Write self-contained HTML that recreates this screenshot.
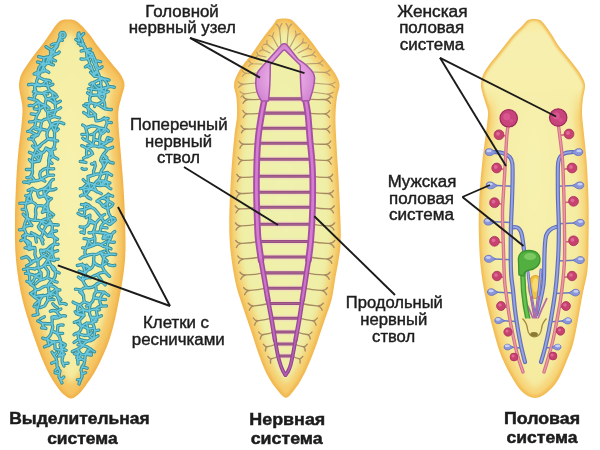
<!DOCTYPE html><html><head><meta charset="utf-8"><style>
html,body{margin:0;padding:0;background:#fff;width:600px;height:450px;overflow:hidden}
svg{display:block}
text{font-family:"Liberation Sans",sans-serif;fill:#1c1c1c;stroke:#1c1c1c;stroke-width:0.42px}
</style></head><body>
<svg width="600" height="450" viewBox="0 0 600 450">
<defs>
<filter id="inset" x="-10%" y="-10%" width="120%" height="120%"><feMorphology operator="erode" radius="7"/><feGaussianBlur stdDeviation="3.2"/></filter>
<filter id="insetA" x="-10%" y="-10%" width="120%" height="120%"><feMorphology operator="erode" radius="8.5"/><feGaussianBlur stdDeviation="3.4"/></filter>
<filter id="inset1" x="-10%" y="-10%" width="120%" height="120%"><feMorphology operator="erode" radius="2.2"/><feGaussianBlur stdDeviation="1.6"/></filter>
<filter id="soft" x="-5%" y="-5%" width="110%" height="110%"><feGaussianBlur stdDeviation="0.45"/></filter>
<radialGradient id="brainG" gradientUnits="userSpaceOnUse" cx="285" cy="78" r="30"><stop offset="0" stop-color="#f0c4ec"/><stop offset="0.6" stop-color="#e4a2e0"/><stop offset="1" stop-color="#d488d4"/></radialGradient>
<radialGradient id="g1" cx="0.5" cy="0.45" r="0.6"><stop offset="0" stop-color="#f7f3b0"/><stop offset="1" stop-color="#f5eca0"/></radialGradient>
<radialGradient id="g2" cx="0.5" cy="0.45" r="0.6"><stop offset="0" stop-color="#eff2b0"/><stop offset="1" stop-color="#f0eea4"/></radialGradient>
<linearGradient id="g3head" gradientUnits="userSpaceOnUse" x1="0" y1="18" x2="0" y2="118"><stop offset="0" stop-color="#f8e89a" stop-opacity="1"/><stop offset="0.15" stop-color="#f8f0b0" stop-opacity="1"/><stop offset="0.72" stop-color="#f7efaa" stop-opacity="1"/><stop offset="1" stop-color="#f7efaa" stop-opacity="0"/></linearGradient>
<filter id="inset0" x="-10%" y="-10%" width="120%" height="120%"><feMorphology operator="erode" radius="1.6"/><feGaussianBlur stdDeviation="1.3"/></filter>
<radialGradient id="g3" cx="0.5" cy="0.4" r="0.6"><stop offset="0" stop-color="#f8f3b2"/><stop offset="1" stop-color="#f5eba0"/></radialGradient>
</defs>
<rect width="600" height="450" fill="#fff"/>
<g filter="url(#soft)">
<path d="M68.0,19.6 C70.3,19.6 72.8,19.6 75.0,20.5 C77.2,21.4 78.5,22.6 81.0,25.0 C83.5,27.4 87.3,31.7 90.0,35.0 C92.7,38.3 94.5,41.7 97.0,45.0 C99.5,48.3 102.3,51.7 105.0,55.0 C107.7,58.3 110.3,61.7 113.0,65.0 C115.7,68.3 119.1,71.7 121.0,75.0 C122.9,78.3 124.4,81.3 124.5,85.0 C124.6,88.7 122.5,92.8 121.5,97.0 C120.5,101.2 119.0,105.3 118.5,110.0 C118.0,114.7 118.2,118.3 118.5,125.0 C118.8,131.7 119.8,140.8 120.5,150.0 C121.2,159.2 122.2,168.3 123.0,180.0 C123.8,191.7 124.7,206.7 125.0,220.0 C125.3,233.3 126.0,246.7 125.0,260.0 C124.0,273.3 121.5,287.0 119.0,300.0 C116.5,313.0 113.7,326.7 110.0,338.0 C106.3,349.3 101.3,359.7 97.0,368.0 C92.7,376.3 87.3,383.4 84.0,388.0 C80.7,392.6 79.2,393.8 77.0,395.5 C74.8,397.2 73.0,398.5 71.0,398.5 C69.0,398.5 67.2,397.2 65.0,395.5 C62.8,393.8 61.0,392.2 58.0,388.0 C55.0,383.8 50.8,378.0 47.0,370.0 C43.2,362.0 39.1,351.7 35.0,340.0 C30.9,328.3 25.7,313.3 22.5,300.0 C19.3,286.7 17.2,273.3 16.0,260.0 C14.8,246.7 14.9,233.3 15.0,220.0 C15.1,206.7 15.7,191.7 16.3,180.0 C16.9,168.3 17.6,159.2 18.5,150.0 C19.4,140.8 20.8,132.0 21.5,125.0 C22.2,118.0 22.7,112.8 22.5,108.0 C22.3,103.2 21.1,99.8 20.5,96.0 C19.9,92.2 18.9,88.5 19.0,85.0 C19.1,81.5 19.7,78.3 21.0,75.0 C22.3,71.7 24.8,68.3 27.0,65.0 C29.2,61.7 31.5,58.3 34.0,55.0 C36.5,51.7 39.5,48.3 42.0,45.0 C44.5,41.7 46.7,38.3 49.0,35.0 C51.3,31.7 54.0,27.4 56.0,25.0 C58.0,22.6 59.0,21.4 61.0,20.5 C63.0,19.6 65.7,19.6 68.0,19.6Z" fill="#f1b24a"/>
<path d="M68.0,19.6 C70.3,19.6 72.8,19.6 75.0,20.5 C77.2,21.4 78.5,22.6 81.0,25.0 C83.5,27.4 87.3,31.7 90.0,35.0 C92.7,38.3 94.5,41.7 97.0,45.0 C99.5,48.3 102.3,51.7 105.0,55.0 C107.7,58.3 110.3,61.7 113.0,65.0 C115.7,68.3 119.1,71.7 121.0,75.0 C122.9,78.3 124.4,81.3 124.5,85.0 C124.6,88.7 122.5,92.8 121.5,97.0 C120.5,101.2 119.0,105.3 118.5,110.0 C118.0,114.7 118.2,118.3 118.5,125.0 C118.8,131.7 119.8,140.8 120.5,150.0 C121.2,159.2 122.2,168.3 123.0,180.0 C123.8,191.7 124.7,206.7 125.0,220.0 C125.3,233.3 126.0,246.7 125.0,260.0 C124.0,273.3 121.5,287.0 119.0,300.0 C116.5,313.0 113.7,326.7 110.0,338.0 C106.3,349.3 101.3,359.7 97.0,368.0 C92.7,376.3 87.3,383.4 84.0,388.0 C80.7,392.6 79.2,393.8 77.0,395.5 C74.8,397.2 73.0,398.5 71.0,398.5 C69.0,398.5 67.2,397.2 65.0,395.5 C62.8,393.8 61.0,392.2 58.0,388.0 C55.0,383.8 50.8,378.0 47.0,370.0 C43.2,362.0 39.1,351.7 35.0,340.0 C30.9,328.3 25.7,313.3 22.5,300.0 C19.3,286.7 17.2,273.3 16.0,260.0 C14.8,246.7 14.9,233.3 15.0,220.0 C15.1,206.7 15.7,191.7 16.3,180.0 C16.9,168.3 17.6,159.2 18.5,150.0 C19.4,140.8 20.8,132.0 21.5,125.0 C22.2,118.0 22.7,112.8 22.5,108.0 C22.3,103.2 21.1,99.8 20.5,96.0 C19.9,92.2 18.9,88.5 19.0,85.0 C19.1,81.5 19.7,78.3 21.0,75.0 C22.3,71.7 24.8,68.3 27.0,65.0 C29.2,61.7 31.5,58.3 34.0,55.0 C36.5,51.7 39.5,48.3 42.0,45.0 C44.5,41.7 46.7,38.3 49.0,35.0 C51.3,31.7 54.0,27.4 56.0,25.0 C58.0,22.6 59.0,21.4 61.0,20.5 C63.0,19.6 65.7,19.6 68.0,19.6Z" fill="#f5c562" filter="url(#inset1)"/>
<path d="M68.0,19.6 C70.3,19.6 72.8,19.6 75.0,20.5 C77.2,21.4 78.5,22.6 81.0,25.0 C83.5,27.4 87.3,31.7 90.0,35.0 C92.7,38.3 94.5,41.7 97.0,45.0 C99.5,48.3 102.3,51.7 105.0,55.0 C107.7,58.3 110.3,61.7 113.0,65.0 C115.7,68.3 119.1,71.7 121.0,75.0 C122.9,78.3 124.4,81.3 124.5,85.0 C124.6,88.7 122.5,92.8 121.5,97.0 C120.5,101.2 119.0,105.3 118.5,110.0 C118.0,114.7 118.2,118.3 118.5,125.0 C118.8,131.7 119.8,140.8 120.5,150.0 C121.2,159.2 122.2,168.3 123.0,180.0 C123.8,191.7 124.7,206.7 125.0,220.0 C125.3,233.3 126.0,246.7 125.0,260.0 C124.0,273.3 121.5,287.0 119.0,300.0 C116.5,313.0 113.7,326.7 110.0,338.0 C106.3,349.3 101.3,359.7 97.0,368.0 C92.7,376.3 87.3,383.4 84.0,388.0 C80.7,392.6 79.2,393.8 77.0,395.5 C74.8,397.2 73.0,398.5 71.0,398.5 C69.0,398.5 67.2,397.2 65.0,395.5 C62.8,393.8 61.0,392.2 58.0,388.0 C55.0,383.8 50.8,378.0 47.0,370.0 C43.2,362.0 39.1,351.7 35.0,340.0 C30.9,328.3 25.7,313.3 22.5,300.0 C19.3,286.7 17.2,273.3 16.0,260.0 C14.8,246.7 14.9,233.3 15.0,220.0 C15.1,206.7 15.7,191.7 16.3,180.0 C16.9,168.3 17.6,159.2 18.5,150.0 C19.4,140.8 20.8,132.0 21.5,125.0 C22.2,118.0 22.7,112.8 22.5,108.0 C22.3,103.2 21.1,99.8 20.5,96.0 C19.9,92.2 18.9,88.5 19.0,85.0 C19.1,81.5 19.7,78.3 21.0,75.0 C22.3,71.7 24.8,68.3 27.0,65.0 C29.2,61.7 31.5,58.3 34.0,55.0 C36.5,51.7 39.5,48.3 42.0,45.0 C44.5,41.7 46.7,38.3 49.0,35.0 C51.3,31.7 54.0,27.4 56.0,25.0 C58.0,22.6 59.0,21.4 61.0,20.5 C63.0,19.6 65.7,19.6 68.0,19.6Z" fill="url(#g1)" filter="url(#insetA)"/>
<path d="M284.0,18.4 C286.3,18.4 288.8,18.4 291.0,19.5 C293.2,20.6 294.5,22.4 297.0,25.0 C299.5,27.6 303.2,31.7 306.0,35.0 C308.8,38.3 311.5,41.7 314.0,45.0 C316.5,48.3 318.5,51.7 321.0,55.0 C323.5,58.3 326.5,61.7 329.0,65.0 C331.5,68.3 334.2,71.7 336.0,75.0 C337.8,78.3 339.3,81.3 339.5,85.0 C339.7,88.7 337.7,92.2 337.0,97.0 C336.3,101.8 335.7,107.7 335.5,114.0 C335.3,120.3 335.6,125.7 336.0,135.0 C336.4,144.3 337.3,157.5 338.0,170.0 C338.7,182.5 339.6,197.5 340.0,210.0 C340.4,222.5 341.3,233.3 340.5,245.0 C339.7,256.7 336.5,270.8 335.0,280.0 C333.5,289.2 333.2,293.3 331.5,300.0 C329.8,306.7 326.9,313.3 324.7,320.0 C322.4,326.7 320.0,334.2 318.0,340.0 C316.0,345.8 314.3,350.3 312.5,355.0 C310.7,359.7 308.8,364.0 307.0,368.0 C305.2,372.0 303.5,375.5 301.5,379.0 C299.5,382.5 297.6,385.9 295.0,389.0 C292.4,392.1 289.1,397.7 286.0,397.7 C282.9,397.7 279.2,392.1 276.5,389.0 C273.8,385.9 271.6,382.5 269.5,379.0 C267.4,375.5 265.8,372.0 264.0,368.0 C262.2,364.0 260.7,359.7 259.0,355.0 C257.3,350.3 255.9,345.8 254.0,340.0 C252.1,334.2 249.6,326.7 247.3,320.0 C245.1,313.3 242.6,306.7 240.5,300.0 C238.4,293.3 236.8,289.2 235.0,280.0 C233.2,270.8 230.9,256.7 230.0,245.0 C229.1,233.3 229.2,222.5 229.5,210.0 C229.8,197.5 230.7,182.5 231.5,170.0 C232.3,157.5 233.6,144.0 234.5,135.0 C235.4,126.0 236.7,122.2 237.0,116.0 C237.3,109.8 237.0,103.2 236.5,98.0 C236.0,92.8 233.9,88.8 234.0,85.0 C234.1,81.2 235.5,78.3 237.0,75.0 C238.5,71.7 240.7,68.3 243.0,65.0 C245.3,61.7 248.5,58.3 251.0,55.0 C253.5,51.7 255.7,48.3 258.0,45.0 C260.3,41.7 262.5,38.3 265.0,35.0 C267.5,31.7 271.0,27.6 273.0,25.0 C275.0,22.4 275.2,20.6 277.0,19.5 C278.8,18.4 281.7,18.4 284.0,18.4Z" fill="#f1b850"/>
<path d="M284.0,18.4 C286.3,18.4 288.8,18.4 291.0,19.5 C293.2,20.6 294.5,22.4 297.0,25.0 C299.5,27.6 303.2,31.7 306.0,35.0 C308.8,38.3 311.5,41.7 314.0,45.0 C316.5,48.3 318.5,51.7 321.0,55.0 C323.5,58.3 326.5,61.7 329.0,65.0 C331.5,68.3 334.2,71.7 336.0,75.0 C337.8,78.3 339.3,81.3 339.5,85.0 C339.7,88.7 337.7,92.2 337.0,97.0 C336.3,101.8 335.7,107.7 335.5,114.0 C335.3,120.3 335.6,125.7 336.0,135.0 C336.4,144.3 337.3,157.5 338.0,170.0 C338.7,182.5 339.6,197.5 340.0,210.0 C340.4,222.5 341.3,233.3 340.5,245.0 C339.7,256.7 336.5,270.8 335.0,280.0 C333.5,289.2 333.2,293.3 331.5,300.0 C329.8,306.7 326.9,313.3 324.7,320.0 C322.4,326.7 320.0,334.2 318.0,340.0 C316.0,345.8 314.3,350.3 312.5,355.0 C310.7,359.7 308.8,364.0 307.0,368.0 C305.2,372.0 303.5,375.5 301.5,379.0 C299.5,382.5 297.6,385.9 295.0,389.0 C292.4,392.1 289.1,397.7 286.0,397.7 C282.9,397.7 279.2,392.1 276.5,389.0 C273.8,385.9 271.6,382.5 269.5,379.0 C267.4,375.5 265.8,372.0 264.0,368.0 C262.2,364.0 260.7,359.7 259.0,355.0 C257.3,350.3 255.9,345.8 254.0,340.0 C252.1,334.2 249.6,326.7 247.3,320.0 C245.1,313.3 242.6,306.7 240.5,300.0 C238.4,293.3 236.8,289.2 235.0,280.0 C233.2,270.8 230.9,256.7 230.0,245.0 C229.1,233.3 229.2,222.5 229.5,210.0 C229.8,197.5 230.7,182.5 231.5,170.0 C232.3,157.5 233.6,144.0 234.5,135.0 C235.4,126.0 236.7,122.2 237.0,116.0 C237.3,109.8 237.0,103.2 236.5,98.0 C236.0,92.8 233.9,88.8 234.0,85.0 C234.1,81.2 235.5,78.3 237.0,75.0 C238.5,71.7 240.7,68.3 243.0,65.0 C245.3,61.7 248.5,58.3 251.0,55.0 C253.5,51.7 255.7,48.3 258.0,45.0 C260.3,41.7 262.5,38.3 265.0,35.0 C267.5,31.7 271.0,27.6 273.0,25.0 C275.0,22.4 275.2,20.6 277.0,19.5 C278.8,18.4 281.7,18.4 284.0,18.4Z" fill="#f6cc6c" filter="url(#inset1)"/>
<path d="M284.0,18.4 C286.3,18.4 288.8,18.4 291.0,19.5 C293.2,20.6 294.5,22.4 297.0,25.0 C299.5,27.6 303.2,31.7 306.0,35.0 C308.8,38.3 311.5,41.7 314.0,45.0 C316.5,48.3 318.5,51.7 321.0,55.0 C323.5,58.3 326.5,61.7 329.0,65.0 C331.5,68.3 334.2,71.7 336.0,75.0 C337.8,78.3 339.3,81.3 339.5,85.0 C339.7,88.7 337.7,92.2 337.0,97.0 C336.3,101.8 335.7,107.7 335.5,114.0 C335.3,120.3 335.6,125.7 336.0,135.0 C336.4,144.3 337.3,157.5 338.0,170.0 C338.7,182.5 339.6,197.5 340.0,210.0 C340.4,222.5 341.3,233.3 340.5,245.0 C339.7,256.7 336.5,270.8 335.0,280.0 C333.5,289.2 333.2,293.3 331.5,300.0 C329.8,306.7 326.9,313.3 324.7,320.0 C322.4,326.7 320.0,334.2 318.0,340.0 C316.0,345.8 314.3,350.3 312.5,355.0 C310.7,359.7 308.8,364.0 307.0,368.0 C305.2,372.0 303.5,375.5 301.5,379.0 C299.5,382.5 297.6,385.9 295.0,389.0 C292.4,392.1 289.1,397.7 286.0,397.7 C282.9,397.7 279.2,392.1 276.5,389.0 C273.8,385.9 271.6,382.5 269.5,379.0 C267.4,375.5 265.8,372.0 264.0,368.0 C262.2,364.0 260.7,359.7 259.0,355.0 C257.3,350.3 255.9,345.8 254.0,340.0 C252.1,334.2 249.6,326.7 247.3,320.0 C245.1,313.3 242.6,306.7 240.5,300.0 C238.4,293.3 236.8,289.2 235.0,280.0 C233.2,270.8 230.9,256.7 230.0,245.0 C229.1,233.3 229.2,222.5 229.5,210.0 C229.8,197.5 230.7,182.5 231.5,170.0 C232.3,157.5 233.6,144.0 234.5,135.0 C235.4,126.0 236.7,122.2 237.0,116.0 C237.3,109.8 237.0,103.2 236.5,98.0 C236.0,92.8 233.9,88.8 234.0,85.0 C234.1,81.2 235.5,78.3 237.0,75.0 C238.5,71.7 240.7,68.3 243.0,65.0 C245.3,61.7 248.5,58.3 251.0,55.0 C253.5,51.7 255.7,48.3 258.0,45.0 C260.3,41.7 262.5,38.3 265.0,35.0 C267.5,31.7 271.0,27.6 273.0,25.0 C275.0,22.4 275.2,20.6 277.0,19.5 C278.8,18.4 281.7,18.4 284.0,18.4Z" fill="url(#g2)" filter="url(#inset)"/>
<path d="M534.0,19.0 C536.0,19.0 538.2,19.0 540.0,20.0 C541.8,21.0 543.0,22.5 545.0,25.0 C547.0,27.5 549.8,31.7 552.0,35.0 C554.2,38.3 555.7,41.7 558.0,45.0 C560.3,48.3 563.3,51.7 566.0,55.0 C568.7,58.3 571.5,61.7 574.0,65.0 C576.5,68.3 579.2,71.7 581.0,75.0 C582.8,78.3 584.7,81.2 585.0,85.0 C585.3,88.8 583.5,93.7 583.0,98.0 C582.5,102.3 582.0,106.5 582.0,111.0 C582.0,115.5 582.2,116.8 583.0,125.0 C583.8,133.2 585.6,147.5 586.5,160.0 C587.4,172.5 588.2,186.7 588.5,200.0 C588.8,213.3 588.7,228.3 588.5,240.0 C588.3,251.7 588.5,260.8 587.5,270.0 C586.5,279.2 584.8,283.3 582.5,295.0 C580.2,306.7 576.6,329.2 574.0,340.0 C571.4,350.8 569.7,353.3 567.0,360.0 C564.3,366.7 561.3,374.6 558.0,380.0 C554.7,385.4 550.8,389.5 547.0,392.5 C543.2,395.5 539.0,398.0 535.0,398.0 C531.0,398.0 526.6,395.5 523.0,392.5 C519.4,389.5 516.8,385.4 513.5,380.0 C510.2,374.6 505.9,366.7 503.0,360.0 C500.1,353.3 498.8,350.0 496.0,340.0 C493.2,330.0 488.6,312.5 486.0,300.0 C483.4,287.5 481.7,276.7 480.5,265.0 C479.3,253.3 479.0,241.7 478.8,230.0 C478.6,218.3 478.9,206.7 479.5,195.0 C480.1,183.3 481.2,171.7 482.5,160.0 C483.8,148.3 486.1,133.0 487.0,125.0 C487.9,117.0 488.2,115.7 488.0,112.0 C487.8,108.3 486.4,106.2 485.5,103.0 C484.6,99.8 483.2,96.0 482.5,93.0 C481.8,90.0 480.9,88.0 481.0,85.0 C481.1,82.0 481.7,78.3 483.0,75.0 C484.3,71.7 486.7,68.3 489.0,65.0 C491.3,61.7 494.3,58.3 497.0,55.0 C499.7,51.7 502.3,48.3 505.0,45.0 C507.7,41.7 510.0,38.3 513.0,35.0 C516.0,31.7 520.5,27.5 523.0,25.0 C525.5,22.5 526.2,21.0 528.0,20.0 C529.8,19.0 532.0,19.0 534.0,19.0Z" fill="#f2bb52"/>
<path d="M534.0,19.0 C536.0,19.0 538.2,19.0 540.0,20.0 C541.8,21.0 543.0,22.5 545.0,25.0 C547.0,27.5 549.8,31.7 552.0,35.0 C554.2,38.3 555.7,41.7 558.0,45.0 C560.3,48.3 563.3,51.7 566.0,55.0 C568.7,58.3 571.5,61.7 574.0,65.0 C576.5,68.3 579.2,71.7 581.0,75.0 C582.8,78.3 584.7,81.2 585.0,85.0 C585.3,88.8 583.5,93.7 583.0,98.0 C582.5,102.3 582.0,106.5 582.0,111.0 C582.0,115.5 582.2,116.8 583.0,125.0 C583.8,133.2 585.6,147.5 586.5,160.0 C587.4,172.5 588.2,186.7 588.5,200.0 C588.8,213.3 588.7,228.3 588.5,240.0 C588.3,251.7 588.5,260.8 587.5,270.0 C586.5,279.2 584.8,283.3 582.5,295.0 C580.2,306.7 576.6,329.2 574.0,340.0 C571.4,350.8 569.7,353.3 567.0,360.0 C564.3,366.7 561.3,374.6 558.0,380.0 C554.7,385.4 550.8,389.5 547.0,392.5 C543.2,395.5 539.0,398.0 535.0,398.0 C531.0,398.0 526.6,395.5 523.0,392.5 C519.4,389.5 516.8,385.4 513.5,380.0 C510.2,374.6 505.9,366.7 503.0,360.0 C500.1,353.3 498.8,350.0 496.0,340.0 C493.2,330.0 488.6,312.5 486.0,300.0 C483.4,287.5 481.7,276.7 480.5,265.0 C479.3,253.3 479.0,241.7 478.8,230.0 C478.6,218.3 478.9,206.7 479.5,195.0 C480.1,183.3 481.2,171.7 482.5,160.0 C483.8,148.3 486.1,133.0 487.0,125.0 C487.9,117.0 488.2,115.7 488.0,112.0 C487.8,108.3 486.4,106.2 485.5,103.0 C484.6,99.8 483.2,96.0 482.5,93.0 C481.8,90.0 480.9,88.0 481.0,85.0 C481.1,82.0 481.7,78.3 483.0,75.0 C484.3,71.7 486.7,68.3 489.0,65.0 C491.3,61.7 494.3,58.3 497.0,55.0 C499.7,51.7 502.3,48.3 505.0,45.0 C507.7,41.7 510.0,38.3 513.0,35.0 C516.0,31.7 520.5,27.5 523.0,25.0 C525.5,22.5 526.2,21.0 528.0,20.0 C529.8,19.0 532.0,19.0 534.0,19.0Z" fill="#f7d478" filter="url(#inset1)"/>
<path d="M534.0,19.0 C536.0,19.0 538.2,19.0 540.0,20.0 C541.8,21.0 543.0,22.5 545.0,25.0 C547.0,27.5 549.8,31.7 552.0,35.0 C554.2,38.3 555.7,41.7 558.0,45.0 C560.3,48.3 563.3,51.7 566.0,55.0 C568.7,58.3 571.5,61.7 574.0,65.0 C576.5,68.3 579.2,71.7 581.0,75.0 C582.8,78.3 584.7,81.2 585.0,85.0 C585.3,88.8 583.5,93.7 583.0,98.0 C582.5,102.3 582.0,106.5 582.0,111.0 C582.0,115.5 582.2,116.8 583.0,125.0 C583.8,133.2 585.6,147.5 586.5,160.0 C587.4,172.5 588.2,186.7 588.5,200.0 C588.8,213.3 588.7,228.3 588.5,240.0 C588.3,251.7 588.5,260.8 587.5,270.0 C586.5,279.2 584.8,283.3 582.5,295.0 C580.2,306.7 576.6,329.2 574.0,340.0 C571.4,350.8 569.7,353.3 567.0,360.0 C564.3,366.7 561.3,374.6 558.0,380.0 C554.7,385.4 550.8,389.5 547.0,392.5 C543.2,395.5 539.0,398.0 535.0,398.0 C531.0,398.0 526.6,395.5 523.0,392.5 C519.4,389.5 516.8,385.4 513.5,380.0 C510.2,374.6 505.9,366.7 503.0,360.0 C500.1,353.3 498.8,350.0 496.0,340.0 C493.2,330.0 488.6,312.5 486.0,300.0 C483.4,287.5 481.7,276.7 480.5,265.0 C479.3,253.3 479.0,241.7 478.8,230.0 C478.6,218.3 478.9,206.7 479.5,195.0 C480.1,183.3 481.2,171.7 482.5,160.0 C483.8,148.3 486.1,133.0 487.0,125.0 C487.9,117.0 488.2,115.7 488.0,112.0 C487.8,108.3 486.4,106.2 485.5,103.0 C484.6,99.8 483.2,96.0 482.5,93.0 C481.8,90.0 480.9,88.0 481.0,85.0 C481.1,82.0 481.7,78.3 483.0,75.0 C484.3,71.7 486.7,68.3 489.0,65.0 C491.3,61.7 494.3,58.3 497.0,55.0 C499.7,51.7 502.3,48.3 505.0,45.0 C507.7,41.7 510.0,38.3 513.0,35.0 C516.0,31.7 520.5,27.5 523.0,25.0 C525.5,22.5 526.2,21.0 528.0,20.0 C529.8,19.0 532.0,19.0 534.0,19.0Z" fill="url(#g3)" filter="url(#inset)"/>
<path d="M534.0,19.0 C536.0,19.0 538.2,19.0 540.0,20.0 C541.8,21.0 543.0,22.5 545.0,25.0 C547.0,27.5 549.8,31.7 552.0,35.0 C554.2,38.3 555.7,41.7 558.0,45.0 C560.3,48.3 563.3,51.7 566.0,55.0 C568.7,58.3 571.5,61.7 574.0,65.0 C576.5,68.3 579.2,71.7 581.0,75.0 C582.8,78.3 584.7,81.2 585.0,85.0 C585.3,88.8 583.5,93.7 583.0,98.0 C582.5,102.3 582.0,106.5 582.0,111.0 C582.0,115.5 582.2,116.8 583.0,125.0 C583.8,133.2 585.6,147.5 586.5,160.0 C587.4,172.5 588.2,186.7 588.5,200.0 C588.8,213.3 588.7,228.3 588.5,240.0 C588.3,251.7 588.5,260.8 587.5,270.0 C586.5,279.2 584.8,283.3 582.5,295.0 C580.2,306.7 576.6,329.2 574.0,340.0 C571.4,350.8 569.7,353.3 567.0,360.0 C564.3,366.7 561.3,374.6 558.0,380.0 C554.7,385.4 550.8,389.5 547.0,392.5 C543.2,395.5 539.0,398.0 535.0,398.0 C531.0,398.0 526.6,395.5 523.0,392.5 C519.4,389.5 516.8,385.4 513.5,380.0 C510.2,374.6 505.9,366.7 503.0,360.0 C500.1,353.3 498.8,350.0 496.0,340.0 C493.2,330.0 488.6,312.5 486.0,300.0 C483.4,287.5 481.7,276.7 480.5,265.0 C479.3,253.3 479.0,241.7 478.8,230.0 C478.6,218.3 478.9,206.7 479.5,195.0 C480.1,183.3 481.2,171.7 482.5,160.0 C483.8,148.3 486.1,133.0 487.0,125.0 C487.9,117.0 488.2,115.7 488.0,112.0 C487.8,108.3 486.4,106.2 485.5,103.0 C484.6,99.8 483.2,96.0 482.5,93.0 C481.8,90.0 480.9,88.0 481.0,85.0 C481.1,82.0 481.7,78.3 483.0,75.0 C484.3,71.7 486.7,68.3 489.0,65.0 C491.3,61.7 494.3,58.3 497.0,55.0 C499.7,51.7 502.3,48.3 505.0,45.0 C507.7,41.7 510.0,38.3 513.0,35.0 C516.0,31.7 520.5,27.5 523.0,25.0 C525.5,22.5 526.2,21.0 528.0,20.0 C529.8,19.0 532.0,19.0 534.0,19.0Z" fill="url(#g3head)" filter="url(#inset0)"/>
<path d="M41.4,179.2Q44.6,176.9 48.2,175.4M41.4,179.2Q38.3,180.7 34.8,180.8M41.4,179.2Q39.0,175.8 40.3,171.9M51.7,330.7Q54.4,331.9 57.1,333.4M51.7,330.7Q51.1,335.8 46.9,338.7M51.7,330.7Q53.8,327.3 51.9,323.9M39.1,197.0Q42.0,195.7 45.2,196.3M39.1,197.0Q37.3,194.4 37.6,191.3M43.3,93.3Q39.9,93.4 36.5,92.7M43.3,93.3Q45.4,95.7 46.4,98.8M43.3,93.3Q46.7,90.5 51.0,91.3M48.0,236.2Q49.6,233.4 51.8,231.3M48.0,236.2Q51.3,236.2 54.3,237.3M42.3,64.2Q45.7,64.5 48.8,63.1M42.3,64.2Q38.1,66.9 38.1,71.9M42.3,64.2Q44.0,61.3 44.1,58.0M42.3,64.2Q43.7,67.4 45.1,70.6M48.8,63.1Q48.4,59.9 50.6,57.4M26.6,256.6Q30.3,259.0 31.5,263.2M62.4,349.3Q61.0,345.5 60.5,341.5M62.4,349.3Q58.6,350.7 55.1,348.7M62.4,349.3Q61.0,352.2 59.2,355.0M43.0,243.9Q41.8,240.7 40.5,237.6M34.2,84.6Q34.8,88.8 36.5,92.7M34.2,84.6Q37.7,85.9 41.3,85.3M25.9,203.6Q24.7,206.8 26.0,209.9M25.9,203.6Q26.6,198.4 30.0,194.5M25.9,203.6Q28.9,202.6 31.9,201.8M57.4,43.7Q59.4,39.0 61.0,34.2M57.4,43.7Q55.3,47.9 51.3,50.2M48.2,175.4Q47.0,171.7 47.8,167.9M34.8,180.8Q33.3,178.1 31.0,176.1M37.8,135.2Q38.9,132.2 40.9,129.7M37.8,135.2Q33.9,136.1 32.7,139.9M37.8,135.2Q34.9,134.4 32.4,132.7M34.3,126.8Q38.0,127.4 40.9,129.7M34.3,126.8Q36.2,123.8 35.7,120.2M40.6,280.0Q39.0,277.0 35.6,276.6M40.6,280.0Q41.6,276.5 41.1,273.0M40.6,280.0Q44.2,279.3 47.3,277.3M44.7,305.8Q46.2,303.0 47.8,300.3M60.5,341.5Q57.5,341.3 54.5,341.9M60.5,341.5Q60.4,336.8 57.1,333.4M55.1,348.7Q54.9,345.3 54.5,341.9M50.6,57.4Q47.2,56.2 44.1,58.0M50.6,57.4Q53.0,55.3 55.9,53.9M50.6,57.4Q50.2,53.8 51.3,50.2M38.1,71.9Q37.4,75.2 39.7,77.7M38.1,71.9Q41.9,72.7 45.1,70.6M35.8,289.8Q34.3,285.8 30.4,284.2M35.8,289.8Q39.5,290.0 42.2,287.4M35.8,289.8Q35.1,293.5 34.5,297.1M36.0,213.5Q34.5,209.5 37.0,206.0M36.0,213.5Q35.3,216.8 35.2,220.2M39.1,102.3Q41.5,104.9 45.0,105.1M39.1,102.3Q35.5,102.8 33.6,105.9M39.1,102.3Q37.0,99.7 33.7,99.7M39.1,102.3Q38.5,105.6 40.0,108.6M54.5,131.6Q52.7,128.4 51.1,125.0M54.5,131.6Q55.5,126.4 58.7,122.1M54.5,131.6Q54.8,135.7 54.3,139.7M47.6,112.0Q44.2,109.3 45.0,105.1M47.6,112.0Q47.8,115.5 48.2,119.0M47.6,112.0Q52.0,111.2 56.3,110.1M41.6,153.3Q45.1,151.8 45.9,148.1M41.6,153.3Q37.9,156.2 33.5,154.6M41.6,153.3Q40.7,157.2 39.4,161.0M41.6,153.3Q38.8,151.2 36.2,148.8M54.5,341.9Q50.1,341.8 46.9,338.7M54.5,341.9Q51.3,343.2 48.7,345.5M48.2,218.4Q44.3,218.8 41.1,221.0M48.2,218.4Q50.2,221.4 52.0,224.5M48.2,218.4Q46.9,214.7 48.6,211.2M36.5,92.7Q34.3,95.9 33.7,99.7M57.9,325.6Q57.7,329.5 57.1,333.4M37.6,114.1Q35.5,116.8 35.7,120.2M37.6,114.1Q39.5,111.6 40.0,108.6M55.1,271.4Q56.5,276.4 52.8,280.2M55.1,271.4Q52.2,268.9 50.8,265.3M52.6,97.1Q55.7,99.9 55.3,104.0M52.6,97.1Q49.7,98.9 46.4,98.8M52.6,97.1Q53.3,93.8 51.0,91.3M51.9,317.2Q52.5,320.5 51.9,323.9M51.9,317.2Q56.7,319.4 61.0,316.4M32.1,169.3Q33.4,173.0 31.0,176.1M32.1,169.3Q32.8,165.8 32.3,162.3M53.9,116.5Q51.1,117.9 48.2,119.0M53.9,116.5Q53.8,112.8 56.3,110.1M31.9,225.5Q28.7,222.1 27.2,217.7M31.9,225.5Q27.1,224.7 23.7,228.3M45.9,328.5Q42.8,326.9 42.2,323.5M27.2,217.7Q24.7,222.7 23.7,228.3M27.2,217.7Q27.8,213.6 26.0,209.9M27.2,217.7Q30.7,220.7 35.2,220.2M51.8,150.2Q49.0,154.9 48.6,160.3M51.8,150.2Q48.7,149.5 45.9,148.1M51.8,150.2Q56.0,145.7 54.3,139.7M51.8,150.2Q52.3,153.3 53.1,156.3M42.7,255.9Q45.8,256.9 48.2,259.1M42.7,255.9Q40.6,258.3 38.1,260.3M42.7,255.9Q40.7,253.4 40.6,250.2M54.2,259.0Q52.6,256.2 52.4,253.0M54.2,259.0Q51.2,259.4 48.2,259.1M43.8,188.8Q48.3,186.8 50.2,182.2M43.8,188.8Q46.6,189.8 49.7,189.9M43.8,188.8Q43.4,192.8 45.2,196.3M43.8,188.8Q40.4,189.3 37.6,191.3M48.0,270.6Q49.3,274.1 47.3,277.3M48.0,270.6Q45.4,268.1 44.6,264.6M56.7,288.6Q57.1,292.2 57.0,295.8M56.7,288.6Q53.1,285.0 48.0,285.8M56.7,288.6Q53.6,292.3 49.1,293.7M47.8,167.9Q49.6,164.3 48.6,160.3M47.8,167.9Q43.4,168.7 40.3,171.9M50.3,311.2Q53.6,309.6 56.7,311.6M35.1,234.6Q30.6,236.9 26.3,234.1M35.1,234.6Q37.5,236.6 40.5,237.6M35.1,234.6Q35.6,238.3 36.4,242.0M41.1,221.0Q40.8,224.3 38.4,226.5M41.1,221.0Q43.3,223.8 46.1,225.8M41.1,221.0Q38.2,220.4 35.2,220.2M38.4,267.8Q37.8,264.1 38.1,260.3M38.4,267.8Q39.1,270.7 41.1,273.0M38.4,267.8Q33.2,269.2 27.9,268.0M38.4,267.8Q42.4,267.9 44.6,264.6M32.3,188.4Q32.0,191.8 30.0,194.5M32.3,188.4Q34.7,190.3 37.6,191.3M51.8,231.3Q52.7,227.9 52.0,224.5M51.8,231.3Q52.0,234.7 54.3,237.3M48.1,139.0Q51.3,138.3 54.3,139.7M48.1,139.0Q45.1,141.6 41.8,143.7M48.1,139.0Q46.0,135.2 47.6,131.1M39.7,77.7Q42.8,79.6 46.3,80.3M38.1,314.2Q36.3,310.7 37.9,307.1M39.8,300.3Q41.1,297.6 43.3,295.5M39.8,300.3Q39.5,303.9 37.9,307.1M39.8,300.3Q37.1,298.8 34.5,297.1M31.5,263.2Q34.1,260.2 38.1,260.3M41.8,121.4Q40.3,125.5 40.9,129.7M41.8,121.4Q44.3,118.4 48.2,119.0M41.8,121.4Q38.8,120.8 35.7,120.2M48.6,160.3Q50.1,157.5 53.1,156.3M30.3,243.1Q28.2,240.5 24.9,240.0M30.3,243.1Q30.5,246.4 29.0,249.4M44.3,206.4Q40.7,204.9 37.0,206.0M44.3,206.4Q47.3,208.1 48.6,211.2M44.3,206.4Q44.1,209.5 42.4,212.3M44.3,206.4Q47.3,204.8 48.1,201.5M46.9,338.7Q48.8,341.9 48.7,345.5M45.0,105.1Q45.5,101.9 46.4,98.8M45.0,105.1Q43.0,107.5 40.0,108.6M37.0,206.0Q35.3,202.9 31.9,201.8M23.7,228.3Q25.3,231.0 26.3,234.1M57.0,295.8Q58.9,299.6 60.0,303.7M57.0,295.8Q53.4,293.3 49.1,293.7M30.4,284.2Q29.2,279.3 29.5,274.2M30.4,284.2Q33.9,281.0 35.6,276.6M34.8,254.5Q35.7,251.2 34.8,247.8M34.8,254.5Q35.3,258.1 38.1,260.3M45.9,148.1Q50.0,151.7 53.1,156.3M55.3,104.0Q51.8,99.9 46.4,98.8M55.3,104.0Q55.0,107.2 56.3,110.1M52.4,253.0Q48.9,255.1 48.2,259.1M52.4,253.0Q50.7,247.8 54.4,243.8M52.4,253.0Q49.1,252.1 47.0,249.5M55.9,53.9Q52.9,52.9 51.3,50.2M38.4,226.5Q39.5,230.0 42.9,231.2M43.3,295.5Q46.7,296.2 49.1,293.7M43.3,295.5Q38.8,295.6 34.5,297.1M34.8,247.8Q31.9,248.5 29.0,249.4M48.2,259.1Q46.6,262.0 44.6,264.6M48.2,259.1Q49.4,262.3 50.8,265.3M33.5,154.6Q36.5,157.7 39.4,161.0M33.5,154.6Q35.5,152.0 36.2,148.8M33.5,154.6Q32.4,158.4 32.3,162.3M46.1,225.8Q48.7,223.7 52.0,224.5M46.1,225.8Q44.6,228.5 42.9,231.2M41.3,85.3Q44.8,84.4 48.0,86.2M41.3,85.3Q44.8,83.7 46.3,80.3M51.1,125.0Q54.4,122.1 58.7,122.1M51.1,125.0Q49.9,121.9 48.2,119.0M51.1,125.0Q49.9,128.4 47.6,131.1M29.5,274.2Q33.2,273.9 35.6,276.6M29.5,274.2Q27.1,271.6 27.9,268.0M48.0,285.8Q48.9,289.7 49.1,293.7M48.0,285.8Q44.9,285.8 42.2,287.4M48.0,285.8Q49.1,281.9 52.8,280.2M26.3,234.1Q24.2,236.7 24.9,240.0M49.1,293.7Q46.9,296.7 47.8,300.3M54.4,243.8Q50.1,245.9 47.0,249.5M54.4,243.8Q55.6,240.5 54.3,237.3M39.4,161.0Q35.8,161.4 32.3,162.3M50.2,182.2Q49.5,186.1 49.7,189.9M40.9,129.7Q44.5,129.0 47.6,131.1M52.8,280.2Q49.8,279.3 47.3,277.3M51.9,323.9Q47.0,323.4 42.2,323.5M47.0,249.5Q43.9,250.8 40.6,250.2M24.9,240.0Q28.6,243.9 29.0,249.4M49.7,189.9Q45.6,191.8 45.2,196.3M61.0,316.4Q58.2,314.6 56.7,311.6M35.6,276.6Q37.5,273.5 41.1,273.0M30.0,194.5Q30.9,198.2 31.9,201.8M45.2,196.3Q46.9,198.7 48.1,201.5M41.8,143.7Q40.0,147.3 36.2,148.8M48.0,86.2Q48.2,89.5 51.0,91.3M48.0,86.2Q47.6,83.1 46.3,80.3M32.7,139.9Q36.3,143.6 36.2,148.8M48.6,211.2Q45.3,210.6 42.4,212.3M48.6,211.2Q46.6,206.4 48.1,201.5M42.9,231.2Q43.1,234.9 40.5,237.6M41.4,179.2Q42.7,179.8 44.9,181.1M39.1,197.0Q40.9,197.2 43.6,195.6M43.3,93.3Q45.4,93.5 47.8,93.9M48.0,236.2Q50.6,234.8 51.4,235.1M42.3,64.2Q40.6,61.9 37.5,62.0M48.8,63.1Q51.7,64.7 53.5,64.9M26.6,256.6Q24.5,257.6 21.7,258.2M62.4,349.3Q65.0,349.5 66.2,350.3M34.2,84.6Q31.5,83.9 28.5,84.7M25.9,203.6Q23.3,202.8 19.8,203.4M57.4,43.7Q53.7,43.2 51.2,45.0M48.2,175.4Q50.1,175.1 53.6,175.2M34.8,180.8Q31.4,181.5 28.7,181.1M52.7,303.7Q54.1,305.9 57.4,307.8M37.8,135.2Q35.2,135.3 31.7,136.5M34.3,126.8Q32.5,127.9 29.9,130.8M40.6,280.0Q38.0,281.0 35.5,283.8M44.7,305.8Q41.3,307.2 40.2,307.6M60.5,341.5Q62.2,343.2 65.3,344.6M50.6,57.4Q52.5,60.1 55.6,60.9M38.1,71.9Q35.8,73.0 34.1,74.0M35.8,289.8Q32.7,292.3 31.6,292.7M39.1,102.3Q36.1,103.9 33.5,105.4M54.5,131.6Q56.8,131.4 58.3,129.1M47.6,112.0Q50.9,114.2 53.4,114.8M41.6,153.3Q40.6,153.1 37.2,154.5M54.5,341.9Q51.8,342.1 50.7,343.6M48.2,218.4Q49.7,216.6 51.8,217.0M36.5,92.7Q35.4,94.5 33.9,95.3M57.9,325.6Q61.4,324.4 63.1,325.1M37.6,114.1Q35.1,114.6 31.2,113.8M55.1,271.4Q57.5,271.7 59.3,273.0M52.6,97.1Q55.8,98.0 57.2,96.6M51.9,317.2Q53.5,316.4 57.4,316.3M32.1,169.3Q28.3,169.5 26.3,169.5M53.9,116.5Q56.6,117.4 59.7,118.0M45.9,328.5Q44.5,327.9 41.5,327.8M27.2,217.7Q25.0,216.7 23.1,214.0M51.8,150.2Q54.4,148.6 55.2,148.8M42.7,255.9Q44.9,255.0 46.6,254.1M54.2,259.0Q56.7,259.8 58.2,259.2M56.7,288.6Q57.8,290.2 59.9,290.0M47.8,167.9Q51.3,169.4 53.7,168.8M35.1,234.6Q33.9,234.1 31.3,232.7M41.1,221.0Q44.3,221.3 46.3,222.1M38.4,267.8Q36.1,267.3 34.7,269.2M32.3,188.4Q30.1,189.4 28.1,190.4M51.8,231.3Q54.7,231.5 56.6,230.9M48.1,139.0Q51.1,140.3 54.4,139.6M44.1,58.0Q42.4,57.5 38.5,56.7M38.1,314.2Q34.6,315.3 33.0,315.4M39.8,300.3Q36.9,302.1 34.8,304.5M31.5,263.2Q29.3,264.3 26.5,265.9M48.6,160.3Q50.6,161.7 52.1,163.5M57.1,333.4Q59.9,333.6 62.7,333.4M30.3,243.1Q27.5,242.5 26.8,242.2M44.3,206.4Q46.2,204.8 47.8,203.5M46.9,338.7Q44.1,339.3 42.7,338.0M45.0,105.1Q46.7,105.7 49.2,108.1M23.7,228.3Q22.6,230.2 19.4,229.8M57.0,295.8Q58.5,296.9 60.9,299.7M30.4,284.2Q29.5,281.6 26.8,281.3M55.3,104.0Q57.3,102.3 60.4,101.1M52.4,253.0Q54.1,251.7 57.7,250.7M60.0,303.7Q64.2,302.9 66.3,304.4M55.9,53.9Q57.9,54.1 59.3,52.0M43.3,295.5Q40.9,296.2 39.9,296.3M34.8,247.8Q33.3,247.0 30.0,247.2M59.2,355.0Q61.5,355.4 64.4,354.1M48.2,259.1Q50.6,259.3 54.3,260.6M51.3,50.2Q49.0,48.5 45.9,46.7M33.5,154.6Q32.5,153.1 29.4,152.3M46.1,225.8Q47.7,224.0 50.0,222.5M41.3,85.3Q37.7,83.5 36.1,83.6M51.1,125.0Q54.8,126.0 56.6,126.1M29.5,274.2Q27.1,273.1 25.4,273.4M45.1,70.6Q47.1,70.8 48.8,72.4M48.0,285.8Q49.7,284.2 51.8,284.4M26.3,234.1Q24.3,235.0 22.5,236.3M49.1,293.7Q50.2,295.5 52.0,296.6M54.4,243.8Q57.0,244.7 58.1,244.2M44.4,316.8Q42.7,317.3 40.2,319.0M58.7,122.1Q61.0,122.3 63.9,123.7M50.2,182.2Q52.0,179.7 53.5,179.4M40.9,129.7Q37.0,130.3 34.9,128.8M52.8,280.2Q54.8,282.2 57.2,282.1M54.3,139.7Q56.6,140.9 57.7,140.9M26.0,209.9Q23.7,209.6 22.1,209.3M47.0,249.5Q48.8,251.0 52.8,250.3M24.9,240.0Q23.2,239.1 20.8,240.6M29.0,249.4Q27.9,247.7 25.0,247.8M49.7,189.9Q53.0,190.4 56.0,188.7M61.0,316.4Q63.8,315.1 65.5,316.0M30.0,194.5Q27.5,196.0 25.7,195.8M45.2,196.3Q46.7,196.3 49.1,197.6M48.7,345.5Q46.3,345.5 44.4,346.9M41.8,143.7Q39.2,145.9 37.1,147.4M48.0,86.2Q50.3,85.6 52.9,84.2M32.7,139.9Q30.4,138.7 28.7,139.0M56.7,311.6Q57.8,310.3 60.9,309.0M36.2,148.8Q33.5,147.0 32.4,145.9M37.9,307.1Q35.7,307.3 34.0,306.3M52.0,224.5Q55.0,224.6 58.2,225.0M48.6,211.2Q51.7,213.5 53.7,214.9M42.2,323.5Q39.5,321.4 37.7,320.9M38.1,260.3Q36.2,259.6 33.2,260.7M31.0,176.1Q28.9,178.1 26.8,177.6M35.7,120.2Q33.7,122.3 29.4,121.9M33.6,105.9Q31.9,105.1 29.1,105.6M41.1,273.0Q38.5,274.7 36.1,275.0M32.3,162.3Q30.1,161.2 29.3,159.6M27.9,268.0Q25.7,269.5 23.4,269.4M34.5,297.1Q32.7,295.3 30.3,293.5M42.9,231.2Q44.7,232.4 46.8,235.1M33.7,99.7Q31.5,98.7 29.0,98.4M44.6,264.6Q47.0,264.2 50.6,264.6M40.5,237.6Q42.0,238.3 43.1,240.1M56.3,110.1Q58.0,109.9 60.7,107.8M31.9,201.8Q28.6,200.8 26.9,198.9M53.1,156.3Q54.4,157.1 57.8,159.1M50.8,265.3Q53.9,266.8 55.4,269.6M51.0,91.3Q54.3,93.0 56.1,94.9M46.3,80.3Q49.6,79.7 50.6,81.4M32.4,132.7Q31.0,131.2 27.7,131.4M29.3,183.0Q26.5,181.7 23.6,182.1M40.6,250.2Q42.2,251.9 44.7,251.3M48.1,201.5Q50.2,199.5 51.5,198.5M54.3,237.3Q54.9,237.5 57.6,239.4M47.8,300.3Q51.4,299.1 54.0,299.6M40.0,108.6Q37.4,109.7 34.3,108.9M61.0,37.0Q59.9,40.6 58.0,43.0Q57.6,47.1 55.0,49.0Q53.9,53.0 51.0,55.0Q47.3,57.9 47.0,61.0Q46.6,64.4 43.0,67.0Q42.9,69.1 40.0,73.0Q38.4,75.9 37.0,80.0Q36.2,83.7 35.0,87.0Q33.7,89.8 36.0,94.0M59.5,40.0Q61.5,39.4 62.4,40.3M56.5,46.0Q55.2,45.4 55.1,45.9M53.0,52.0Q51.8,52.2 50.4,51.6M49.0,58.0Q51.2,59.6 51.7,62.0M45.0,64.0Q43.9,63.1 43.6,61.7M41.5,70.0Q43.8,70.4 44.8,70.8M38.5,76.5Q37.9,74.2 35.5,73.9M36.0,83.5Q37.8,84.8 40.1,85.7M35.5,90.5Q33.8,91.7 33.3,91.9M59.9,35.0a2.6,2.6 0 1,0 5.2,0a2.6,2.6 0 1,0 -5.2,0M52.0,352.0Q53.9,355.4 56.0,358.0Q57.1,360.6 57.0,365.0Q56.7,367.7 60.0,371.0Q58.7,374.7 59.0,377.0Q61.2,380.2 62.0,383.0M54.0,355.0Q54.6,354.5 56.6,352.3M56.5,361.5Q53.7,362.2 51.6,363.2M58.5,368.0Q56.8,368.5 55.1,370.7M59.5,374.0Q56.5,373.0 55.0,372.8M60.5,380.0Q61.5,379.1 63.8,376.9M60.0,345.0Q60.6,348.9 63.0,352.0Q63.2,356.8 62.0,360.0Q61.9,362.4 64.0,366.0M61.5,348.5Q63.3,346.5 65.1,345.7M62.5,356.0Q59.5,355.6 58.5,356.0M63.0,363.0Q66.2,363.6 68.1,363.2" fill="none" stroke="#318f9b" stroke-width="3.3" stroke-linecap="round" stroke-linejoin="round"/>
<path d="M94.8,330.8Q94.6,326.7 92.5,323.2M94.8,330.8Q94.2,334.9 93.7,339.0M79.4,320.4Q79.9,323.6 81.2,326.6M79.4,320.4Q81.7,317.8 84.1,315.5M95.5,223.6Q97.9,219.9 101.5,217.2M95.5,223.6Q95.4,228.0 93.2,231.8M95.5,223.6Q92.3,223.0 89.2,221.9M85.7,203.7Q89.1,204.5 91.2,207.3M85.7,203.7Q84.1,206.6 84.5,209.8M98.2,94.8Q94.6,95.4 91.0,95.2M98.2,94.8Q99.2,91.9 99.0,88.8M98.2,94.8Q102.2,95.2 104.9,92.3M98.2,94.8Q99.7,98.6 103.5,99.8M97.3,104.2Q93.8,103.8 90.5,102.5M97.3,104.2Q101.0,106.6 104.9,108.7M97.3,104.2Q101.4,103.3 103.5,99.8M79.5,41.0Q77.4,37.5 78.3,33.5M93.7,261.6Q93.7,258.0 94.1,254.5M93.7,261.6Q96.8,266.1 102.2,266.2M93.7,261.6Q94.1,266.0 90.7,268.7M102.0,198.1Q99.3,199.4 96.9,201.2M102.0,198.1Q105.2,196.2 108.3,194.3M102.0,198.1Q105.9,198.2 108.1,201.3M87.0,148.6Q86.3,152.3 86.6,156.1M87.0,148.6Q91.1,149.9 92.6,153.8M87.0,148.6Q89.5,146.7 92.4,145.7M95.5,285.2Q98.2,281.9 102.5,282.2M95.5,285.2Q91.9,288.4 87.1,287.6M95.5,285.2Q96.1,288.4 96.3,291.7M100.7,244.8Q103.4,246.9 106.7,247.2M100.7,244.8Q97.0,243.0 93.6,245.3M82.9,345.6Q79.6,343.4 79.0,339.4M82.9,345.6Q87.1,346.3 90.5,349.0M82.9,345.6Q84.1,342.2 87.5,341.2M82.9,345.6Q80.8,347.7 78.0,348.9M90.4,277.7Q93.7,275.9 97.2,274.6M90.4,277.7Q85.7,276.8 82.7,280.4M90.4,277.7Q86.4,277.4 84.7,273.8M101.5,217.2Q98.9,214.9 97.0,212.0M101.5,217.2Q101.9,220.7 105.1,222.1M87.6,134.2Q86.2,131.0 85.7,127.5M87.6,134.2Q87.7,137.5 86.7,140.6M100.9,185.6Q97.6,185.4 94.3,184.6M100.9,185.6Q102.0,182.1 105.4,180.9M100.9,185.6Q104.7,184.0 108.0,186.6M100.9,185.6Q100.9,182.3 98.5,180.0M88.6,239.8Q88.5,244.1 86.2,247.8M88.6,239.8Q91.9,239.6 94.9,237.9M88.6,239.8Q89.6,244.0 93.6,245.3M83.6,295.7Q83.4,298.9 84.5,302.0M83.6,295.7Q82.6,292.9 81.0,290.4M92.3,69.8Q94.1,72.7 94.3,76.2M92.3,69.8Q91.9,66.5 89.7,64.1M93.9,139.5Q93.9,136.2 94.5,133.0M93.9,139.5Q93.6,142.7 92.4,145.7M93.9,139.5Q96.9,139.8 99.7,140.9M92.3,125.9Q89.1,126.8 85.7,127.5M92.3,125.9Q96.1,126.2 99.3,128.0M88.6,116.2Q92.2,116.3 95.5,114.5M88.6,116.2Q89.2,112.0 88.0,107.9M107.9,208.6Q107.8,213.7 111.2,217.5M107.9,208.6Q106.7,204.9 108.1,201.3M107.9,208.6Q104.9,207.8 102.5,206.0M110.8,223.8Q112.7,220.8 111.2,217.5M110.8,223.8Q107.8,223.5 105.1,222.1M108.2,86.9Q107.1,81.7 102.8,78.7M108.2,86.9Q103.8,88.7 99.0,88.8M108.2,86.9Q105.2,88.7 104.9,92.3M86.6,51.0Q84.8,48.5 83.6,45.7M86.6,51.0Q86.5,54.8 87.3,58.5M86.6,51.0Q89.6,51.9 92.3,53.3M109.3,254.3Q106.8,251.2 106.7,247.2M109.3,254.3Q105.5,254.8 103.6,258.0M109.3,254.3Q104.2,255.9 100.2,252.4M104.3,292.2Q101.1,294.8 99.9,298.8M104.3,292.2Q100.4,291.4 96.3,291.7M91.0,95.2Q88.6,98.7 90.5,102.5M91.0,95.2Q90.6,91.8 91.8,88.6M88.2,183.0Q91.4,183.5 94.3,184.6M88.2,183.0Q88.4,179.7 88.0,176.4M88.2,183.0Q86.0,185.2 83.7,187.3M88.2,183.0Q89.9,185.9 90.0,189.1M90.5,102.5Q87.8,104.6 88.0,107.9M95.5,114.5Q91.7,111.3 88.0,107.9M95.5,114.5Q95.2,117.8 96.1,120.9M86.5,323.1Q83.9,324.9 81.2,326.6M86.5,323.1Q89.5,323.0 92.5,323.2M86.5,323.1Q87.3,325.9 87.8,328.9M105.7,143.4Q102.3,145.3 98.8,146.9M105.7,143.4Q106.1,140.3 107.8,137.6M94.1,254.5Q89.6,253.9 85.7,256.1M94.1,254.5Q97.6,254.9 100.2,252.4M84.5,302.0Q87.3,303.1 90.3,303.9M79.0,339.4Q83.1,340.7 87.5,341.2M79.0,339.4Q77.9,336.2 77.9,332.9M94.3,184.6Q94.2,188.7 96.9,191.8M94.3,184.6Q93.4,188.0 90.0,189.1M94.3,184.6Q95.9,181.7 98.5,180.0M82.2,264.3Q86.2,267.0 90.7,268.7M82.2,264.3Q85.2,268.6 84.7,273.8M103.3,154.5Q101.3,157.2 100.6,160.4M103.3,154.5Q105.6,152.1 107.5,149.3M103.3,154.5Q104.6,158.2 107.9,160.4M102.8,78.7Q98.9,76.3 94.3,76.2M102.8,78.7Q97.9,79.9 93.6,82.6M99.0,88.8Q102.3,90.0 104.9,92.3M99.0,88.8Q95.4,90.5 91.8,88.6M99.0,88.8Q94.7,87.1 93.6,82.6M97.0,212.0Q95.0,208.6 91.2,207.3M105.4,128.9Q101.6,130.6 100.5,134.5M105.4,128.9Q102.4,128.4 99.3,128.0M105.4,128.9Q105.2,125.7 107.2,123.2M95.6,60.8Q95.8,65.2 98.5,68.7M95.6,60.8Q93.7,57.2 92.3,53.3M89.3,311.0Q85.5,311.6 82.8,308.9M89.3,311.0Q92.2,308.6 96.0,309.4M89.3,311.0Q89.3,314.4 91.0,317.2M89.3,311.0Q89.2,307.4 90.3,303.9M103.4,168.1Q104.2,163.5 100.6,160.4M103.4,168.1Q100.5,170.6 100.7,174.4M103.4,168.1Q105.0,163.9 107.9,160.4M104.3,118.0Q100.8,121.1 96.1,120.9M104.3,118.0Q107.2,119.8 107.2,123.2M85.6,194.8Q83.5,191.3 83.7,187.3M85.6,194.8Q87.2,198.2 90.8,199.0M85.6,194.8Q88.1,192.2 90.0,189.1M100.6,160.4Q104.2,161.3 107.9,160.4M81.2,326.6Q81.4,330.7 77.9,332.9M81.2,326.6Q85.1,326.1 87.8,328.9M94.0,297.6Q96.8,298.9 99.9,298.8M94.0,297.6Q93.3,301.4 90.3,303.9M94.0,297.6Q93.7,294.0 96.3,291.7M94.3,76.2Q94.4,71.3 98.5,68.7M82.8,308.9Q83.4,312.2 84.1,315.5M82.8,308.9Q81.5,306.0 78.7,304.6M99.3,232.5Q96.2,232.1 93.2,231.8M99.3,232.5Q102.5,233.0 105.7,233.0M99.3,232.5Q100.9,229.9 100.9,226.8M106.0,272.8Q103.3,270.0 102.2,266.2M106.0,272.8Q101.1,271.2 97.2,274.6M90.5,349.0Q87.3,350.8 87.4,354.4M102.5,282.2Q100.1,278.2 97.2,274.6M102.2,266.2Q103.3,262.2 103.6,258.0M100.5,134.5Q99.7,131.3 99.3,128.0M100.5,134.5Q99.2,137.6 99.7,140.9M88.0,176.4Q91.2,175.7 94.3,174.9M85.3,227.0Q83.6,230.0 84.2,233.4M85.3,227.0Q88.8,225.6 89.2,221.9M96.9,191.8Q94.0,189.1 90.0,189.1M87.1,287.6Q84.3,284.3 82.7,280.4M87.1,287.6Q83.3,287.4 81.0,290.4M86.2,247.8Q83.9,251.8 85.7,256.1M86.2,247.8Q90.1,247.1 93.6,245.3M87.3,58.5Q90.9,56.9 92.3,53.3M87.3,58.5Q89.9,60.7 89.7,64.1M87.5,341.2Q91.0,341.2 93.7,339.0M111.2,217.5Q108.1,219.7 105.1,222.1M108.3,241.2Q111.3,238.6 111.6,234.7M108.3,241.2Q107.7,244.3 106.7,247.2M98.8,146.9Q103.8,145.7 107.5,149.3M98.8,146.9Q95.7,145.8 92.4,145.7M98.8,146.9Q100.6,144.1 99.7,140.9M96.9,201.2Q101.1,201.9 102.5,206.0M108.3,194.3Q107.5,197.8 108.1,201.3M82.7,280.4Q82.3,276.6 84.7,273.8M96.0,309.4Q98.0,306.3 101.7,306.2M96.0,309.4Q97.0,313.2 97.5,317.1M111.6,234.7Q108.4,234.8 105.7,233.0M111.6,234.7Q106.5,234.8 103.0,238.5M108.1,201.3Q106.1,204.6 102.5,206.0M90.7,268.7Q86.5,269.8 84.7,273.8M92.5,323.2Q91.7,320.2 91.0,317.2M92.5,323.2Q94.4,319.6 97.5,317.1M105.1,222.1Q102.1,223.7 100.9,226.8M83.8,215.7Q85.1,212.9 84.5,209.8M105.4,180.9Q106.8,176.7 107.5,172.4M105.4,180.9Q108.3,183.0 108.0,186.6M105.4,180.9Q101.8,181.4 98.5,180.0M78.2,314.3Q81.5,313.2 84.1,315.5M78.2,314.3Q76.4,309.3 78.7,304.6M91.0,317.2Q94.3,317.4 97.5,317.1M107.5,172.4Q104.0,172.9 100.7,174.4M93.7,339.0Q90.7,337.3 88.2,335.0M104.9,108.7Q105.2,104.1 103.5,99.8M93.2,231.8Q93.6,235.0 94.9,237.9M81.4,354.3Q78.7,352.3 78.0,348.9M81.4,354.3Q84.4,354.8 87.4,354.4M100.7,174.4Q97.4,173.3 94.3,174.9M100.7,174.4Q100.1,177.4 98.5,180.0M94.7,162.4Q95.9,165.6 94.4,168.7M99.9,298.8Q99.3,302.8 101.7,306.2M88.2,335.0Q82.6,336.6 77.9,332.9M88.2,335.0Q88.4,331.9 87.8,328.9M104.9,92.3Q105.2,96.2 103.5,99.8M91.2,207.3Q87.6,207.7 84.5,209.8M91.8,88.6Q91.6,85.3 93.6,82.6M94.9,237.9Q95.3,241.8 93.6,245.3M105.7,233.0Q103.5,235.4 103.0,238.5M103.6,258.0Q102.2,255.0 100.2,252.4M83.7,187.3Q87.1,187.5 90.0,189.1M89.2,221.9Q89.8,218.5 89.9,215.1M94.5,133.0Q97.4,131.0 99.3,128.0M94.3,174.9Q92.7,171.8 94.4,168.7M86.7,140.6Q90.6,141.9 92.4,145.7M94.8,330.8Q95.8,330.8 98.8,330.1M79.4,320.4Q77.8,321.4 74.2,322.3M95.5,223.6Q92.0,221.0 90.1,220.1M85.7,203.7Q84.7,205.2 81.4,204.5M97.3,104.2Q95.0,104.2 94.6,106.6M79.5,41.0Q77.0,40.7 75.8,39.5M87.0,148.6Q83.5,146.1 81.7,145.7M95.5,285.2Q97.5,284.2 100.3,281.9M100.7,244.8Q103.3,243.6 106.2,241.6M82.9,345.6Q80.7,344.5 78.0,344.8M101.5,217.2Q102.1,215.6 104.7,214.5M87.6,134.2Q85.4,134.6 81.8,134.4M100.9,185.6Q103.4,184.3 105.9,182.0M88.6,239.8Q86.7,238.5 84.0,238.6M83.6,295.7Q81.9,293.2 79.7,291.8M92.3,69.8Q89.3,67.2 88.2,66.8M92.3,125.9Q89.3,126.5 87.4,128.0M88.6,116.2Q86.9,114.0 83.6,112.5M107.9,208.6Q110.0,207.3 112.2,205.4M110.8,223.8Q112.4,222.7 115.3,220.1M108.2,86.9Q112.4,86.3 114.3,87.3M86.6,51.0Q83.6,50.0 81.1,51.1M109.3,254.3Q111.5,253.8 115.7,254.5M104.3,292.2Q106.4,293.9 108.7,295.5M91.0,95.2Q89.5,94.1 87.5,92.8M88.2,183.0Q84.9,182.1 83.2,179.6M90.5,102.5Q89.2,103.5 85.7,104.0M105.7,143.4Q107.8,140.9 111.2,140.5M84.5,302.0Q82.5,302.6 79.7,305.4M79.0,339.4Q76.1,340.9 74.0,342.5M94.3,184.6Q92.7,184.1 90.9,183.7M82.2,264.3Q80.8,264.9 77.3,265.5M103.3,154.5Q104.3,155.4 106.9,157.8M102.8,78.7Q105.8,78.9 109.1,80.1M86.3,169.1Q83.0,169.6 82.1,168.4M105.4,128.9Q107.2,129.6 108.4,131.3M95.6,60.8Q97.7,60.7 100.7,61.8M89.3,311.0Q85.9,309.9 83.2,309.9M104.3,118.0Q105.9,118.5 108.2,118.4M85.6,194.8Q81.8,194.6 80.4,195.9M81.2,326.6Q78.9,324.4 77.9,323.7M94.0,297.6Q97.4,298.0 100.3,298.9M94.3,76.2Q92.9,74.4 90.5,72.3M82.8,308.9Q81.6,311.3 78.5,311.6M106.0,272.8Q108.4,275.4 109.7,276.5M90.5,349.0Q92.5,351.1 94.6,351.8M102.5,282.2Q102.7,282.4 105.2,284.9M83.6,45.7Q81.5,43.4 78.2,43.3M102.2,266.2Q103.1,264.3 106.1,263.2M100.5,134.5Q103.0,133.7 105.6,130.7M86.6,156.1Q86.1,157.2 83.5,158.3M85.3,227.0Q82.2,227.3 80.1,226.8M96.9,191.8Q99.1,191.9 101.3,193.7M86.2,247.8Q84.5,248.0 82.6,247.8M98.5,68.7Q99.4,68.7 102.1,66.8M87.3,58.5Q84.7,59.5 81.0,59.0M87.5,341.2Q90.3,339.7 93.1,338.8M111.2,217.5Q112.6,217.3 114.8,218.7M108.3,241.2Q112.3,242.7 114.4,242.1M108.3,194.3Q111.0,195.8 112.7,196.2M82.7,280.4Q80.6,278.9 78.3,277.0M96.0,309.4Q97.9,310.2 99.6,309.6M85.7,256.1Q82.0,256.5 80.0,258.8M111.6,234.7Q112.6,232.6 114.8,231.5M108.1,201.3Q111.0,201.6 113.0,203.8M106.7,247.2Q109.1,247.7 111.0,248.8M90.7,268.7Q87.8,267.4 86.7,265.1M92.6,153.8Q90.6,155.3 87.5,156.8M92.5,323.2Q93.6,321.4 95.9,321.4M105.1,222.1Q107.1,222.7 109.8,224.6M83.8,215.7Q80.5,215.1 78.0,213.3M105.4,180.9Q108.3,182.8 109.9,182.9M78.2,314.3Q75.9,313.8 75.1,311.7M91.0,317.2Q93.9,319.7 96.9,319.9M84.2,233.4Q82.2,231.8 80.9,232.2M107.5,172.4Q109.8,174.3 111.7,175.2M93.7,339.0Q95.0,337.1 98.0,335.7M104.9,108.7Q108.8,109.8 111.4,109.5M107.5,149.3Q109.0,148.7 112.7,147.3M93.2,231.8Q91.2,233.4 88.9,232.6M81.4,354.3Q80.0,356.8 76.8,357.9M94.7,162.4Q92.8,164.1 91.5,164.0M99.9,298.8Q102.5,299.2 105.6,299.6M88.2,335.0Q90.6,334.2 91.6,332.2M104.9,92.3Q107.4,92.5 108.4,91.4M91.8,88.6Q90.1,88.2 88.3,88.8M88.0,107.9Q86.3,106.3 83.7,105.4M101.7,306.2Q104.7,305.8 106.5,305.9M105.7,233.0Q107.1,233.4 108.7,236.0M103.6,258.0Q105.5,259.7 107.1,261.1M85.7,127.5Q85.0,125.9 82.6,125.0M77.9,332.9Q76.3,332.7 74.0,334.7M83.7,187.3Q81.7,188.9 80.2,188.7M94.5,133.0Q92.3,134.7 90.8,134.6M97.5,317.1Q98.9,317.4 101.5,315.7M107.8,137.6Q109.7,138.5 112.0,139.1M93.6,245.3Q90.7,246.6 89.2,246.8M94.3,174.9Q91.3,175.3 88.5,177.0M86.7,140.6Q84.4,140.4 82.7,138.0M108.7,264.8Q111.8,266.2 114.8,265.3M81.0,290.4Q79.3,289.3 75.4,289.2M107.9,160.4Q109.6,162.7 113.2,163.0M90.3,303.9Q88.5,305.6 86.3,306.1M84.7,273.8Q82.0,271.9 79.0,271.1M93.6,82.6Q91.5,82.8 89.8,84.2M100.2,252.4Q101.6,252.5 104.5,251.1M84.1,315.5Q80.7,315.4 78.3,314.5M87.8,328.9Q90.8,328.8 93.5,328.3M86.0,162.5Q83.2,161.5 80.2,161.5M89.7,64.1Q87.2,65.5 85.3,67.0M103.0,238.5Q105.8,237.4 109.4,238.4M90.8,199.0Q87.6,196.8 86.6,196.1M78.7,304.6Q75.0,303.5 73.0,302.1M107.2,123.2Q108.5,121.8 111.4,122.6M89.9,215.1Q88.6,215.4 86.1,217.6M90.0,189.1Q88.2,189.9 84.3,189.8M84.5,209.8Q81.4,209.6 79.6,210.0M78.0,348.9Q75.0,350.2 72.3,351.5M87.4,354.4Q88.7,355.0 91.3,355.1M108.0,186.6Q108.6,188.4 110.9,188.8M92.4,145.7Q89.2,145.1 87.8,145.3M99.7,140.9Q100.9,142.9 104.4,143.3M100.9,226.8Q103.2,227.7 107.0,227.9M79.0,33.0Q79.5,37.6 82.0,40.0Q82.2,44.0 85.0,47.0Q85.5,49.9 89.0,54.0Q92.8,56.8 93.0,61.0Q95.0,64.4 96.0,68.0Q97.3,71.5 99.0,75.0Q98.9,79.3 101.0,82.0Q100.0,85.4 102.0,90.0Q99.3,92.4 100.0,96.0M80.5,36.5Q81.7,35.9 83.8,33.4M83.5,43.5Q81.6,44.8 80.3,45.4M87.0,50.5Q88.1,49.0 90.7,49.1M91.0,57.5Q92.2,57.9 93.0,57.4M94.5,64.5Q94.9,65.1 96.7,64.6M97.5,71.5Q96.8,73.0 94.7,74.5M100.0,78.5Q100.3,79.0 102.2,77.9M101.5,86.0Q98.8,85.4 98.0,85.4M101.0,93.0Q103.2,93.3 103.8,95.0M88.0,350.0Q85.1,354.0 85.0,357.0Q85.0,361.6 84.0,364.0Q81.7,366.4 81.0,370.0Q82.3,373.9 82.0,377.0Q79.8,380.9 79.0,384.0M86.5,353.5Q89.8,353.4 91.5,353.9M84.5,360.5Q82.3,359.5 79.8,357.9M82.5,367.0Q84.0,367.0 87.2,368.2M81.5,373.5Q83.8,373.8 85.6,372.7M80.5,380.5Q78.3,379.3 77.4,379.7M78.0,350.0Q79.2,352.3 77.0,357.0Q78.3,359.7 78.0,364.0M77.5,353.5Q76.6,354.6 74.3,353.7M77.5,360.5Q78.9,359.2 81.3,359.0" fill="none" stroke="#318f9b" stroke-width="3.3" stroke-linecap="round" stroke-linejoin="round"/>
<path d="M41.4,179.2Q44.6,176.9 48.2,175.4M41.4,179.2Q38.3,180.7 34.8,180.8M41.4,179.2Q39.0,175.8 40.3,171.9M51.7,330.7Q54.4,331.9 57.1,333.4M51.7,330.7Q51.1,335.8 46.9,338.7M51.7,330.7Q53.8,327.3 51.9,323.9M39.1,197.0Q42.0,195.7 45.2,196.3M39.1,197.0Q37.3,194.4 37.6,191.3M43.3,93.3Q39.9,93.4 36.5,92.7M43.3,93.3Q45.4,95.7 46.4,98.8M43.3,93.3Q46.7,90.5 51.0,91.3M48.0,236.2Q49.6,233.4 51.8,231.3M48.0,236.2Q51.3,236.2 54.3,237.3M42.3,64.2Q45.7,64.5 48.8,63.1M42.3,64.2Q38.1,66.9 38.1,71.9M42.3,64.2Q44.0,61.3 44.1,58.0M42.3,64.2Q43.7,67.4 45.1,70.6M48.8,63.1Q48.4,59.9 50.6,57.4M26.6,256.6Q30.3,259.0 31.5,263.2M62.4,349.3Q61.0,345.5 60.5,341.5M62.4,349.3Q58.6,350.7 55.1,348.7M62.4,349.3Q61.0,352.2 59.2,355.0M43.0,243.9Q41.8,240.7 40.5,237.6M34.2,84.6Q34.8,88.8 36.5,92.7M34.2,84.6Q37.7,85.9 41.3,85.3M25.9,203.6Q24.7,206.8 26.0,209.9M25.9,203.6Q26.6,198.4 30.0,194.5M25.9,203.6Q28.9,202.6 31.9,201.8M57.4,43.7Q59.4,39.0 61.0,34.2M57.4,43.7Q55.3,47.9 51.3,50.2M48.2,175.4Q47.0,171.7 47.8,167.9M34.8,180.8Q33.3,178.1 31.0,176.1M37.8,135.2Q38.9,132.2 40.9,129.7M37.8,135.2Q33.9,136.1 32.7,139.9M37.8,135.2Q34.9,134.4 32.4,132.7M34.3,126.8Q38.0,127.4 40.9,129.7M34.3,126.8Q36.2,123.8 35.7,120.2M40.6,280.0Q39.0,277.0 35.6,276.6M40.6,280.0Q41.6,276.5 41.1,273.0M40.6,280.0Q44.2,279.3 47.3,277.3M44.7,305.8Q46.2,303.0 47.8,300.3M60.5,341.5Q57.5,341.3 54.5,341.9M60.5,341.5Q60.4,336.8 57.1,333.4M55.1,348.7Q54.9,345.3 54.5,341.9M50.6,57.4Q47.2,56.2 44.1,58.0M50.6,57.4Q53.0,55.3 55.9,53.9M50.6,57.4Q50.2,53.8 51.3,50.2M38.1,71.9Q37.4,75.2 39.7,77.7M38.1,71.9Q41.9,72.7 45.1,70.6M35.8,289.8Q34.3,285.8 30.4,284.2M35.8,289.8Q39.5,290.0 42.2,287.4M35.8,289.8Q35.1,293.5 34.5,297.1M36.0,213.5Q34.5,209.5 37.0,206.0M36.0,213.5Q35.3,216.8 35.2,220.2M39.1,102.3Q41.5,104.9 45.0,105.1M39.1,102.3Q35.5,102.8 33.6,105.9M39.1,102.3Q37.0,99.7 33.7,99.7M39.1,102.3Q38.5,105.6 40.0,108.6M54.5,131.6Q52.7,128.4 51.1,125.0M54.5,131.6Q55.5,126.4 58.7,122.1M54.5,131.6Q54.8,135.7 54.3,139.7M47.6,112.0Q44.2,109.3 45.0,105.1M47.6,112.0Q47.8,115.5 48.2,119.0M47.6,112.0Q52.0,111.2 56.3,110.1M41.6,153.3Q45.1,151.8 45.9,148.1M41.6,153.3Q37.9,156.2 33.5,154.6M41.6,153.3Q40.7,157.2 39.4,161.0M41.6,153.3Q38.8,151.2 36.2,148.8M54.5,341.9Q50.1,341.8 46.9,338.7M54.5,341.9Q51.3,343.2 48.7,345.5M48.2,218.4Q44.3,218.8 41.1,221.0M48.2,218.4Q50.2,221.4 52.0,224.5M48.2,218.4Q46.9,214.7 48.6,211.2M36.5,92.7Q34.3,95.9 33.7,99.7M57.9,325.6Q57.7,329.5 57.1,333.4M37.6,114.1Q35.5,116.8 35.7,120.2M37.6,114.1Q39.5,111.6 40.0,108.6M55.1,271.4Q56.5,276.4 52.8,280.2M55.1,271.4Q52.2,268.9 50.8,265.3M52.6,97.1Q55.7,99.9 55.3,104.0M52.6,97.1Q49.7,98.9 46.4,98.8M52.6,97.1Q53.3,93.8 51.0,91.3M51.9,317.2Q52.5,320.5 51.9,323.9M51.9,317.2Q56.7,319.4 61.0,316.4M32.1,169.3Q33.4,173.0 31.0,176.1M32.1,169.3Q32.8,165.8 32.3,162.3M53.9,116.5Q51.1,117.9 48.2,119.0M53.9,116.5Q53.8,112.8 56.3,110.1M31.9,225.5Q28.7,222.1 27.2,217.7M31.9,225.5Q27.1,224.7 23.7,228.3M45.9,328.5Q42.8,326.9 42.2,323.5M27.2,217.7Q24.7,222.7 23.7,228.3M27.2,217.7Q27.8,213.6 26.0,209.9M27.2,217.7Q30.7,220.7 35.2,220.2M51.8,150.2Q49.0,154.9 48.6,160.3M51.8,150.2Q48.7,149.5 45.9,148.1M51.8,150.2Q56.0,145.7 54.3,139.7M51.8,150.2Q52.3,153.3 53.1,156.3M42.7,255.9Q45.8,256.9 48.2,259.1M42.7,255.9Q40.6,258.3 38.1,260.3M42.7,255.9Q40.7,253.4 40.6,250.2M54.2,259.0Q52.6,256.2 52.4,253.0M54.2,259.0Q51.2,259.4 48.2,259.1M43.8,188.8Q48.3,186.8 50.2,182.2M43.8,188.8Q46.6,189.8 49.7,189.9M43.8,188.8Q43.4,192.8 45.2,196.3M43.8,188.8Q40.4,189.3 37.6,191.3M48.0,270.6Q49.3,274.1 47.3,277.3M48.0,270.6Q45.4,268.1 44.6,264.6M56.7,288.6Q57.1,292.2 57.0,295.8M56.7,288.6Q53.1,285.0 48.0,285.8M56.7,288.6Q53.6,292.3 49.1,293.7M47.8,167.9Q49.6,164.3 48.6,160.3M47.8,167.9Q43.4,168.7 40.3,171.9M50.3,311.2Q53.6,309.6 56.7,311.6M35.1,234.6Q30.6,236.9 26.3,234.1M35.1,234.6Q37.5,236.6 40.5,237.6M35.1,234.6Q35.6,238.3 36.4,242.0M41.1,221.0Q40.8,224.3 38.4,226.5M41.1,221.0Q43.3,223.8 46.1,225.8M41.1,221.0Q38.2,220.4 35.2,220.2M38.4,267.8Q37.8,264.1 38.1,260.3M38.4,267.8Q39.1,270.7 41.1,273.0M38.4,267.8Q33.2,269.2 27.9,268.0M38.4,267.8Q42.4,267.9 44.6,264.6M32.3,188.4Q32.0,191.8 30.0,194.5M32.3,188.4Q34.7,190.3 37.6,191.3M51.8,231.3Q52.7,227.9 52.0,224.5M51.8,231.3Q52.0,234.7 54.3,237.3M48.1,139.0Q51.3,138.3 54.3,139.7M48.1,139.0Q45.1,141.6 41.8,143.7M48.1,139.0Q46.0,135.2 47.6,131.1M39.7,77.7Q42.8,79.6 46.3,80.3M38.1,314.2Q36.3,310.7 37.9,307.1M39.8,300.3Q41.1,297.6 43.3,295.5M39.8,300.3Q39.5,303.9 37.9,307.1M39.8,300.3Q37.1,298.8 34.5,297.1M31.5,263.2Q34.1,260.2 38.1,260.3M41.8,121.4Q40.3,125.5 40.9,129.7M41.8,121.4Q44.3,118.4 48.2,119.0M41.8,121.4Q38.8,120.8 35.7,120.2M48.6,160.3Q50.1,157.5 53.1,156.3M30.3,243.1Q28.2,240.5 24.9,240.0M30.3,243.1Q30.5,246.4 29.0,249.4M44.3,206.4Q40.7,204.9 37.0,206.0M44.3,206.4Q47.3,208.1 48.6,211.2M44.3,206.4Q44.1,209.5 42.4,212.3M44.3,206.4Q47.3,204.8 48.1,201.5M46.9,338.7Q48.8,341.9 48.7,345.5M45.0,105.1Q45.5,101.9 46.4,98.8M45.0,105.1Q43.0,107.5 40.0,108.6M37.0,206.0Q35.3,202.9 31.9,201.8M23.7,228.3Q25.3,231.0 26.3,234.1M57.0,295.8Q58.9,299.6 60.0,303.7M57.0,295.8Q53.4,293.3 49.1,293.7M30.4,284.2Q29.2,279.3 29.5,274.2M30.4,284.2Q33.9,281.0 35.6,276.6M34.8,254.5Q35.7,251.2 34.8,247.8M34.8,254.5Q35.3,258.1 38.1,260.3M45.9,148.1Q50.0,151.7 53.1,156.3M55.3,104.0Q51.8,99.9 46.4,98.8M55.3,104.0Q55.0,107.2 56.3,110.1M52.4,253.0Q48.9,255.1 48.2,259.1M52.4,253.0Q50.7,247.8 54.4,243.8M52.4,253.0Q49.1,252.1 47.0,249.5M55.9,53.9Q52.9,52.9 51.3,50.2M38.4,226.5Q39.5,230.0 42.9,231.2M43.3,295.5Q46.7,296.2 49.1,293.7M43.3,295.5Q38.8,295.6 34.5,297.1M34.8,247.8Q31.9,248.5 29.0,249.4M48.2,259.1Q46.6,262.0 44.6,264.6M48.2,259.1Q49.4,262.3 50.8,265.3M33.5,154.6Q36.5,157.7 39.4,161.0M33.5,154.6Q35.5,152.0 36.2,148.8M33.5,154.6Q32.4,158.4 32.3,162.3M46.1,225.8Q48.7,223.7 52.0,224.5M46.1,225.8Q44.6,228.5 42.9,231.2M41.3,85.3Q44.8,84.4 48.0,86.2M41.3,85.3Q44.8,83.7 46.3,80.3M51.1,125.0Q54.4,122.1 58.7,122.1M51.1,125.0Q49.9,121.9 48.2,119.0M51.1,125.0Q49.9,128.4 47.6,131.1M29.5,274.2Q33.2,273.9 35.6,276.6M29.5,274.2Q27.1,271.6 27.9,268.0M48.0,285.8Q48.9,289.7 49.1,293.7M48.0,285.8Q44.9,285.8 42.2,287.4M48.0,285.8Q49.1,281.9 52.8,280.2M26.3,234.1Q24.2,236.7 24.9,240.0M49.1,293.7Q46.9,296.7 47.8,300.3M54.4,243.8Q50.1,245.9 47.0,249.5M54.4,243.8Q55.6,240.5 54.3,237.3M39.4,161.0Q35.8,161.4 32.3,162.3M50.2,182.2Q49.5,186.1 49.7,189.9M40.9,129.7Q44.5,129.0 47.6,131.1M52.8,280.2Q49.8,279.3 47.3,277.3M51.9,323.9Q47.0,323.4 42.2,323.5M47.0,249.5Q43.9,250.8 40.6,250.2M24.9,240.0Q28.6,243.9 29.0,249.4M49.7,189.9Q45.6,191.8 45.2,196.3M61.0,316.4Q58.2,314.6 56.7,311.6M35.6,276.6Q37.5,273.5 41.1,273.0M30.0,194.5Q30.9,198.2 31.9,201.8M45.2,196.3Q46.9,198.7 48.1,201.5M41.8,143.7Q40.0,147.3 36.2,148.8M48.0,86.2Q48.2,89.5 51.0,91.3M48.0,86.2Q47.6,83.1 46.3,80.3M32.7,139.9Q36.3,143.6 36.2,148.8M48.6,211.2Q45.3,210.6 42.4,212.3M48.6,211.2Q46.6,206.4 48.1,201.5M42.9,231.2Q43.1,234.9 40.5,237.6M41.4,179.2Q42.7,179.8 44.9,181.1M39.1,197.0Q40.9,197.2 43.6,195.6M43.3,93.3Q45.4,93.5 47.8,93.9M48.0,236.2Q50.6,234.8 51.4,235.1M42.3,64.2Q40.6,61.9 37.5,62.0M48.8,63.1Q51.7,64.7 53.5,64.9M26.6,256.6Q24.5,257.6 21.7,258.2M62.4,349.3Q65.0,349.5 66.2,350.3M34.2,84.6Q31.5,83.9 28.5,84.7M25.9,203.6Q23.3,202.8 19.8,203.4M57.4,43.7Q53.7,43.2 51.2,45.0M48.2,175.4Q50.1,175.1 53.6,175.2M34.8,180.8Q31.4,181.5 28.7,181.1M52.7,303.7Q54.1,305.9 57.4,307.8M37.8,135.2Q35.2,135.3 31.7,136.5M34.3,126.8Q32.5,127.9 29.9,130.8M40.6,280.0Q38.0,281.0 35.5,283.8M44.7,305.8Q41.3,307.2 40.2,307.6M60.5,341.5Q62.2,343.2 65.3,344.6M50.6,57.4Q52.5,60.1 55.6,60.9M38.1,71.9Q35.8,73.0 34.1,74.0M35.8,289.8Q32.7,292.3 31.6,292.7M39.1,102.3Q36.1,103.9 33.5,105.4M54.5,131.6Q56.8,131.4 58.3,129.1M47.6,112.0Q50.9,114.2 53.4,114.8M41.6,153.3Q40.6,153.1 37.2,154.5M54.5,341.9Q51.8,342.1 50.7,343.6M48.2,218.4Q49.7,216.6 51.8,217.0M36.5,92.7Q35.4,94.5 33.9,95.3M57.9,325.6Q61.4,324.4 63.1,325.1M37.6,114.1Q35.1,114.6 31.2,113.8M55.1,271.4Q57.5,271.7 59.3,273.0M52.6,97.1Q55.8,98.0 57.2,96.6M51.9,317.2Q53.5,316.4 57.4,316.3M32.1,169.3Q28.3,169.5 26.3,169.5M53.9,116.5Q56.6,117.4 59.7,118.0M45.9,328.5Q44.5,327.9 41.5,327.8M27.2,217.7Q25.0,216.7 23.1,214.0M51.8,150.2Q54.4,148.6 55.2,148.8M42.7,255.9Q44.9,255.0 46.6,254.1M54.2,259.0Q56.7,259.8 58.2,259.2M56.7,288.6Q57.8,290.2 59.9,290.0M47.8,167.9Q51.3,169.4 53.7,168.8M35.1,234.6Q33.9,234.1 31.3,232.7M41.1,221.0Q44.3,221.3 46.3,222.1M38.4,267.8Q36.1,267.3 34.7,269.2M32.3,188.4Q30.1,189.4 28.1,190.4M51.8,231.3Q54.7,231.5 56.6,230.9M48.1,139.0Q51.1,140.3 54.4,139.6M44.1,58.0Q42.4,57.5 38.5,56.7M38.1,314.2Q34.6,315.3 33.0,315.4M39.8,300.3Q36.9,302.1 34.8,304.5M31.5,263.2Q29.3,264.3 26.5,265.9M48.6,160.3Q50.6,161.7 52.1,163.5M57.1,333.4Q59.9,333.6 62.7,333.4M30.3,243.1Q27.5,242.5 26.8,242.2M44.3,206.4Q46.2,204.8 47.8,203.5M46.9,338.7Q44.1,339.3 42.7,338.0M45.0,105.1Q46.7,105.7 49.2,108.1M23.7,228.3Q22.6,230.2 19.4,229.8M57.0,295.8Q58.5,296.9 60.9,299.7M30.4,284.2Q29.5,281.6 26.8,281.3M55.3,104.0Q57.3,102.3 60.4,101.1M52.4,253.0Q54.1,251.7 57.7,250.7M60.0,303.7Q64.2,302.9 66.3,304.4M55.9,53.9Q57.9,54.1 59.3,52.0M43.3,295.5Q40.9,296.2 39.9,296.3M34.8,247.8Q33.3,247.0 30.0,247.2M59.2,355.0Q61.5,355.4 64.4,354.1M48.2,259.1Q50.6,259.3 54.3,260.6M51.3,50.2Q49.0,48.5 45.9,46.7M33.5,154.6Q32.5,153.1 29.4,152.3M46.1,225.8Q47.7,224.0 50.0,222.5M41.3,85.3Q37.7,83.5 36.1,83.6M51.1,125.0Q54.8,126.0 56.6,126.1M29.5,274.2Q27.1,273.1 25.4,273.4M45.1,70.6Q47.1,70.8 48.8,72.4M48.0,285.8Q49.7,284.2 51.8,284.4M26.3,234.1Q24.3,235.0 22.5,236.3M49.1,293.7Q50.2,295.5 52.0,296.6M54.4,243.8Q57.0,244.7 58.1,244.2M44.4,316.8Q42.7,317.3 40.2,319.0M58.7,122.1Q61.0,122.3 63.9,123.7M50.2,182.2Q52.0,179.7 53.5,179.4M40.9,129.7Q37.0,130.3 34.9,128.8M52.8,280.2Q54.8,282.2 57.2,282.1M54.3,139.7Q56.6,140.9 57.7,140.9M26.0,209.9Q23.7,209.6 22.1,209.3M47.0,249.5Q48.8,251.0 52.8,250.3M24.9,240.0Q23.2,239.1 20.8,240.6M29.0,249.4Q27.9,247.7 25.0,247.8M49.7,189.9Q53.0,190.4 56.0,188.7M61.0,316.4Q63.8,315.1 65.5,316.0M30.0,194.5Q27.5,196.0 25.7,195.8M45.2,196.3Q46.7,196.3 49.1,197.6M48.7,345.5Q46.3,345.5 44.4,346.9M41.8,143.7Q39.2,145.9 37.1,147.4M48.0,86.2Q50.3,85.6 52.9,84.2M32.7,139.9Q30.4,138.7 28.7,139.0M56.7,311.6Q57.8,310.3 60.9,309.0M36.2,148.8Q33.5,147.0 32.4,145.9M37.9,307.1Q35.7,307.3 34.0,306.3M52.0,224.5Q55.0,224.6 58.2,225.0M48.6,211.2Q51.7,213.5 53.7,214.9M42.2,323.5Q39.5,321.4 37.7,320.9M38.1,260.3Q36.2,259.6 33.2,260.7M31.0,176.1Q28.9,178.1 26.8,177.6M35.7,120.2Q33.7,122.3 29.4,121.9M33.6,105.9Q31.9,105.1 29.1,105.6M41.1,273.0Q38.5,274.7 36.1,275.0M32.3,162.3Q30.1,161.2 29.3,159.6M27.9,268.0Q25.7,269.5 23.4,269.4M34.5,297.1Q32.7,295.3 30.3,293.5M42.9,231.2Q44.7,232.4 46.8,235.1M33.7,99.7Q31.5,98.7 29.0,98.4M44.6,264.6Q47.0,264.2 50.6,264.6M40.5,237.6Q42.0,238.3 43.1,240.1M56.3,110.1Q58.0,109.9 60.7,107.8M31.9,201.8Q28.6,200.8 26.9,198.9M53.1,156.3Q54.4,157.1 57.8,159.1M50.8,265.3Q53.9,266.8 55.4,269.6M51.0,91.3Q54.3,93.0 56.1,94.9M46.3,80.3Q49.6,79.7 50.6,81.4M32.4,132.7Q31.0,131.2 27.7,131.4M29.3,183.0Q26.5,181.7 23.6,182.1M40.6,250.2Q42.2,251.9 44.7,251.3M48.1,201.5Q50.2,199.5 51.5,198.5M54.3,237.3Q54.9,237.5 57.6,239.4M47.8,300.3Q51.4,299.1 54.0,299.6M40.0,108.6Q37.4,109.7 34.3,108.9M61.0,37.0Q59.9,40.6 58.0,43.0Q57.6,47.1 55.0,49.0Q53.9,53.0 51.0,55.0Q47.3,57.9 47.0,61.0Q46.6,64.4 43.0,67.0Q42.9,69.1 40.0,73.0Q38.4,75.9 37.0,80.0Q36.2,83.7 35.0,87.0Q33.7,89.8 36.0,94.0M59.5,40.0Q61.5,39.4 62.4,40.3M56.5,46.0Q55.2,45.4 55.1,45.9M53.0,52.0Q51.8,52.2 50.4,51.6M49.0,58.0Q51.2,59.6 51.7,62.0M45.0,64.0Q43.9,63.1 43.6,61.7M41.5,70.0Q43.8,70.4 44.8,70.8M38.5,76.5Q37.9,74.2 35.5,73.9M36.0,83.5Q37.8,84.8 40.1,85.7M35.5,90.5Q33.8,91.7 33.3,91.9M59.9,35.0a2.6,2.6 0 1,0 5.2,0a2.6,2.6 0 1,0 -5.2,0M52.0,352.0Q53.9,355.4 56.0,358.0Q57.1,360.6 57.0,365.0Q56.7,367.7 60.0,371.0Q58.7,374.7 59.0,377.0Q61.2,380.2 62.0,383.0M54.0,355.0Q54.6,354.5 56.6,352.3M56.5,361.5Q53.7,362.2 51.6,363.2M58.5,368.0Q56.8,368.5 55.1,370.7M59.5,374.0Q56.5,373.0 55.0,372.8M60.5,380.0Q61.5,379.1 63.8,376.9M60.0,345.0Q60.6,348.9 63.0,352.0Q63.2,356.8 62.0,360.0Q61.9,362.4 64.0,366.0M61.5,348.5Q63.3,346.5 65.1,345.7M62.5,356.0Q59.5,355.6 58.5,356.0M63.0,363.0Q66.2,363.6 68.1,363.2" fill="none" stroke="#6ac6dc" stroke-width="1.5" stroke-linecap="round" stroke-linejoin="round"/>
<path d="M94.8,330.8Q94.6,326.7 92.5,323.2M94.8,330.8Q94.2,334.9 93.7,339.0M79.4,320.4Q79.9,323.6 81.2,326.6M79.4,320.4Q81.7,317.8 84.1,315.5M95.5,223.6Q97.9,219.9 101.5,217.2M95.5,223.6Q95.4,228.0 93.2,231.8M95.5,223.6Q92.3,223.0 89.2,221.9M85.7,203.7Q89.1,204.5 91.2,207.3M85.7,203.7Q84.1,206.6 84.5,209.8M98.2,94.8Q94.6,95.4 91.0,95.2M98.2,94.8Q99.2,91.9 99.0,88.8M98.2,94.8Q102.2,95.2 104.9,92.3M98.2,94.8Q99.7,98.6 103.5,99.8M97.3,104.2Q93.8,103.8 90.5,102.5M97.3,104.2Q101.0,106.6 104.9,108.7M97.3,104.2Q101.4,103.3 103.5,99.8M79.5,41.0Q77.4,37.5 78.3,33.5M93.7,261.6Q93.7,258.0 94.1,254.5M93.7,261.6Q96.8,266.1 102.2,266.2M93.7,261.6Q94.1,266.0 90.7,268.7M102.0,198.1Q99.3,199.4 96.9,201.2M102.0,198.1Q105.2,196.2 108.3,194.3M102.0,198.1Q105.9,198.2 108.1,201.3M87.0,148.6Q86.3,152.3 86.6,156.1M87.0,148.6Q91.1,149.9 92.6,153.8M87.0,148.6Q89.5,146.7 92.4,145.7M95.5,285.2Q98.2,281.9 102.5,282.2M95.5,285.2Q91.9,288.4 87.1,287.6M95.5,285.2Q96.1,288.4 96.3,291.7M100.7,244.8Q103.4,246.9 106.7,247.2M100.7,244.8Q97.0,243.0 93.6,245.3M82.9,345.6Q79.6,343.4 79.0,339.4M82.9,345.6Q87.1,346.3 90.5,349.0M82.9,345.6Q84.1,342.2 87.5,341.2M82.9,345.6Q80.8,347.7 78.0,348.9M90.4,277.7Q93.7,275.9 97.2,274.6M90.4,277.7Q85.7,276.8 82.7,280.4M90.4,277.7Q86.4,277.4 84.7,273.8M101.5,217.2Q98.9,214.9 97.0,212.0M101.5,217.2Q101.9,220.7 105.1,222.1M87.6,134.2Q86.2,131.0 85.7,127.5M87.6,134.2Q87.7,137.5 86.7,140.6M100.9,185.6Q97.6,185.4 94.3,184.6M100.9,185.6Q102.0,182.1 105.4,180.9M100.9,185.6Q104.7,184.0 108.0,186.6M100.9,185.6Q100.9,182.3 98.5,180.0M88.6,239.8Q88.5,244.1 86.2,247.8M88.6,239.8Q91.9,239.6 94.9,237.9M88.6,239.8Q89.6,244.0 93.6,245.3M83.6,295.7Q83.4,298.9 84.5,302.0M83.6,295.7Q82.6,292.9 81.0,290.4M92.3,69.8Q94.1,72.7 94.3,76.2M92.3,69.8Q91.9,66.5 89.7,64.1M93.9,139.5Q93.9,136.2 94.5,133.0M93.9,139.5Q93.6,142.7 92.4,145.7M93.9,139.5Q96.9,139.8 99.7,140.9M92.3,125.9Q89.1,126.8 85.7,127.5M92.3,125.9Q96.1,126.2 99.3,128.0M88.6,116.2Q92.2,116.3 95.5,114.5M88.6,116.2Q89.2,112.0 88.0,107.9M107.9,208.6Q107.8,213.7 111.2,217.5M107.9,208.6Q106.7,204.9 108.1,201.3M107.9,208.6Q104.9,207.8 102.5,206.0M110.8,223.8Q112.7,220.8 111.2,217.5M110.8,223.8Q107.8,223.5 105.1,222.1M108.2,86.9Q107.1,81.7 102.8,78.7M108.2,86.9Q103.8,88.7 99.0,88.8M108.2,86.9Q105.2,88.7 104.9,92.3M86.6,51.0Q84.8,48.5 83.6,45.7M86.6,51.0Q86.5,54.8 87.3,58.5M86.6,51.0Q89.6,51.9 92.3,53.3M109.3,254.3Q106.8,251.2 106.7,247.2M109.3,254.3Q105.5,254.8 103.6,258.0M109.3,254.3Q104.2,255.9 100.2,252.4M104.3,292.2Q101.1,294.8 99.9,298.8M104.3,292.2Q100.4,291.4 96.3,291.7M91.0,95.2Q88.6,98.7 90.5,102.5M91.0,95.2Q90.6,91.8 91.8,88.6M88.2,183.0Q91.4,183.5 94.3,184.6M88.2,183.0Q88.4,179.7 88.0,176.4M88.2,183.0Q86.0,185.2 83.7,187.3M88.2,183.0Q89.9,185.9 90.0,189.1M90.5,102.5Q87.8,104.6 88.0,107.9M95.5,114.5Q91.7,111.3 88.0,107.9M95.5,114.5Q95.2,117.8 96.1,120.9M86.5,323.1Q83.9,324.9 81.2,326.6M86.5,323.1Q89.5,323.0 92.5,323.2M86.5,323.1Q87.3,325.9 87.8,328.9M105.7,143.4Q102.3,145.3 98.8,146.9M105.7,143.4Q106.1,140.3 107.8,137.6M94.1,254.5Q89.6,253.9 85.7,256.1M94.1,254.5Q97.6,254.9 100.2,252.4M84.5,302.0Q87.3,303.1 90.3,303.9M79.0,339.4Q83.1,340.7 87.5,341.2M79.0,339.4Q77.9,336.2 77.9,332.9M94.3,184.6Q94.2,188.7 96.9,191.8M94.3,184.6Q93.4,188.0 90.0,189.1M94.3,184.6Q95.9,181.7 98.5,180.0M82.2,264.3Q86.2,267.0 90.7,268.7M82.2,264.3Q85.2,268.6 84.7,273.8M103.3,154.5Q101.3,157.2 100.6,160.4M103.3,154.5Q105.6,152.1 107.5,149.3M103.3,154.5Q104.6,158.2 107.9,160.4M102.8,78.7Q98.9,76.3 94.3,76.2M102.8,78.7Q97.9,79.9 93.6,82.6M99.0,88.8Q102.3,90.0 104.9,92.3M99.0,88.8Q95.4,90.5 91.8,88.6M99.0,88.8Q94.7,87.1 93.6,82.6M97.0,212.0Q95.0,208.6 91.2,207.3M105.4,128.9Q101.6,130.6 100.5,134.5M105.4,128.9Q102.4,128.4 99.3,128.0M105.4,128.9Q105.2,125.7 107.2,123.2M95.6,60.8Q95.8,65.2 98.5,68.7M95.6,60.8Q93.7,57.2 92.3,53.3M89.3,311.0Q85.5,311.6 82.8,308.9M89.3,311.0Q92.2,308.6 96.0,309.4M89.3,311.0Q89.3,314.4 91.0,317.2M89.3,311.0Q89.2,307.4 90.3,303.9M103.4,168.1Q104.2,163.5 100.6,160.4M103.4,168.1Q100.5,170.6 100.7,174.4M103.4,168.1Q105.0,163.9 107.9,160.4M104.3,118.0Q100.8,121.1 96.1,120.9M104.3,118.0Q107.2,119.8 107.2,123.2M85.6,194.8Q83.5,191.3 83.7,187.3M85.6,194.8Q87.2,198.2 90.8,199.0M85.6,194.8Q88.1,192.2 90.0,189.1M100.6,160.4Q104.2,161.3 107.9,160.4M81.2,326.6Q81.4,330.7 77.9,332.9M81.2,326.6Q85.1,326.1 87.8,328.9M94.0,297.6Q96.8,298.9 99.9,298.8M94.0,297.6Q93.3,301.4 90.3,303.9M94.0,297.6Q93.7,294.0 96.3,291.7M94.3,76.2Q94.4,71.3 98.5,68.7M82.8,308.9Q83.4,312.2 84.1,315.5M82.8,308.9Q81.5,306.0 78.7,304.6M99.3,232.5Q96.2,232.1 93.2,231.8M99.3,232.5Q102.5,233.0 105.7,233.0M99.3,232.5Q100.9,229.9 100.9,226.8M106.0,272.8Q103.3,270.0 102.2,266.2M106.0,272.8Q101.1,271.2 97.2,274.6M90.5,349.0Q87.3,350.8 87.4,354.4M102.5,282.2Q100.1,278.2 97.2,274.6M102.2,266.2Q103.3,262.2 103.6,258.0M100.5,134.5Q99.7,131.3 99.3,128.0M100.5,134.5Q99.2,137.6 99.7,140.9M88.0,176.4Q91.2,175.7 94.3,174.9M85.3,227.0Q83.6,230.0 84.2,233.4M85.3,227.0Q88.8,225.6 89.2,221.9M96.9,191.8Q94.0,189.1 90.0,189.1M87.1,287.6Q84.3,284.3 82.7,280.4M87.1,287.6Q83.3,287.4 81.0,290.4M86.2,247.8Q83.9,251.8 85.7,256.1M86.2,247.8Q90.1,247.1 93.6,245.3M87.3,58.5Q90.9,56.9 92.3,53.3M87.3,58.5Q89.9,60.7 89.7,64.1M87.5,341.2Q91.0,341.2 93.7,339.0M111.2,217.5Q108.1,219.7 105.1,222.1M108.3,241.2Q111.3,238.6 111.6,234.7M108.3,241.2Q107.7,244.3 106.7,247.2M98.8,146.9Q103.8,145.7 107.5,149.3M98.8,146.9Q95.7,145.8 92.4,145.7M98.8,146.9Q100.6,144.1 99.7,140.9M96.9,201.2Q101.1,201.9 102.5,206.0M108.3,194.3Q107.5,197.8 108.1,201.3M82.7,280.4Q82.3,276.6 84.7,273.8M96.0,309.4Q98.0,306.3 101.7,306.2M96.0,309.4Q97.0,313.2 97.5,317.1M111.6,234.7Q108.4,234.8 105.7,233.0M111.6,234.7Q106.5,234.8 103.0,238.5M108.1,201.3Q106.1,204.6 102.5,206.0M90.7,268.7Q86.5,269.8 84.7,273.8M92.5,323.2Q91.7,320.2 91.0,317.2M92.5,323.2Q94.4,319.6 97.5,317.1M105.1,222.1Q102.1,223.7 100.9,226.8M83.8,215.7Q85.1,212.9 84.5,209.8M105.4,180.9Q106.8,176.7 107.5,172.4M105.4,180.9Q108.3,183.0 108.0,186.6M105.4,180.9Q101.8,181.4 98.5,180.0M78.2,314.3Q81.5,313.2 84.1,315.5M78.2,314.3Q76.4,309.3 78.7,304.6M91.0,317.2Q94.3,317.4 97.5,317.1M107.5,172.4Q104.0,172.9 100.7,174.4M93.7,339.0Q90.7,337.3 88.2,335.0M104.9,108.7Q105.2,104.1 103.5,99.8M93.2,231.8Q93.6,235.0 94.9,237.9M81.4,354.3Q78.7,352.3 78.0,348.9M81.4,354.3Q84.4,354.8 87.4,354.4M100.7,174.4Q97.4,173.3 94.3,174.9M100.7,174.4Q100.1,177.4 98.5,180.0M94.7,162.4Q95.9,165.6 94.4,168.7M99.9,298.8Q99.3,302.8 101.7,306.2M88.2,335.0Q82.6,336.6 77.9,332.9M88.2,335.0Q88.4,331.9 87.8,328.9M104.9,92.3Q105.2,96.2 103.5,99.8M91.2,207.3Q87.6,207.7 84.5,209.8M91.8,88.6Q91.6,85.3 93.6,82.6M94.9,237.9Q95.3,241.8 93.6,245.3M105.7,233.0Q103.5,235.4 103.0,238.5M103.6,258.0Q102.2,255.0 100.2,252.4M83.7,187.3Q87.1,187.5 90.0,189.1M89.2,221.9Q89.8,218.5 89.9,215.1M94.5,133.0Q97.4,131.0 99.3,128.0M94.3,174.9Q92.7,171.8 94.4,168.7M86.7,140.6Q90.6,141.9 92.4,145.7M94.8,330.8Q95.8,330.8 98.8,330.1M79.4,320.4Q77.8,321.4 74.2,322.3M95.5,223.6Q92.0,221.0 90.1,220.1M85.7,203.7Q84.7,205.2 81.4,204.5M97.3,104.2Q95.0,104.2 94.6,106.6M79.5,41.0Q77.0,40.7 75.8,39.5M87.0,148.6Q83.5,146.1 81.7,145.7M95.5,285.2Q97.5,284.2 100.3,281.9M100.7,244.8Q103.3,243.6 106.2,241.6M82.9,345.6Q80.7,344.5 78.0,344.8M101.5,217.2Q102.1,215.6 104.7,214.5M87.6,134.2Q85.4,134.6 81.8,134.4M100.9,185.6Q103.4,184.3 105.9,182.0M88.6,239.8Q86.7,238.5 84.0,238.6M83.6,295.7Q81.9,293.2 79.7,291.8M92.3,69.8Q89.3,67.2 88.2,66.8M92.3,125.9Q89.3,126.5 87.4,128.0M88.6,116.2Q86.9,114.0 83.6,112.5M107.9,208.6Q110.0,207.3 112.2,205.4M110.8,223.8Q112.4,222.7 115.3,220.1M108.2,86.9Q112.4,86.3 114.3,87.3M86.6,51.0Q83.6,50.0 81.1,51.1M109.3,254.3Q111.5,253.8 115.7,254.5M104.3,292.2Q106.4,293.9 108.7,295.5M91.0,95.2Q89.5,94.1 87.5,92.8M88.2,183.0Q84.9,182.1 83.2,179.6M90.5,102.5Q89.2,103.5 85.7,104.0M105.7,143.4Q107.8,140.9 111.2,140.5M84.5,302.0Q82.5,302.6 79.7,305.4M79.0,339.4Q76.1,340.9 74.0,342.5M94.3,184.6Q92.7,184.1 90.9,183.7M82.2,264.3Q80.8,264.9 77.3,265.5M103.3,154.5Q104.3,155.4 106.9,157.8M102.8,78.7Q105.8,78.9 109.1,80.1M86.3,169.1Q83.0,169.6 82.1,168.4M105.4,128.9Q107.2,129.6 108.4,131.3M95.6,60.8Q97.7,60.7 100.7,61.8M89.3,311.0Q85.9,309.9 83.2,309.9M104.3,118.0Q105.9,118.5 108.2,118.4M85.6,194.8Q81.8,194.6 80.4,195.9M81.2,326.6Q78.9,324.4 77.9,323.7M94.0,297.6Q97.4,298.0 100.3,298.9M94.3,76.2Q92.9,74.4 90.5,72.3M82.8,308.9Q81.6,311.3 78.5,311.6M106.0,272.8Q108.4,275.4 109.7,276.5M90.5,349.0Q92.5,351.1 94.6,351.8M102.5,282.2Q102.7,282.4 105.2,284.9M83.6,45.7Q81.5,43.4 78.2,43.3M102.2,266.2Q103.1,264.3 106.1,263.2M100.5,134.5Q103.0,133.7 105.6,130.7M86.6,156.1Q86.1,157.2 83.5,158.3M85.3,227.0Q82.2,227.3 80.1,226.8M96.9,191.8Q99.1,191.9 101.3,193.7M86.2,247.8Q84.5,248.0 82.6,247.8M98.5,68.7Q99.4,68.7 102.1,66.8M87.3,58.5Q84.7,59.5 81.0,59.0M87.5,341.2Q90.3,339.7 93.1,338.8M111.2,217.5Q112.6,217.3 114.8,218.7M108.3,241.2Q112.3,242.7 114.4,242.1M108.3,194.3Q111.0,195.8 112.7,196.2M82.7,280.4Q80.6,278.9 78.3,277.0M96.0,309.4Q97.9,310.2 99.6,309.6M85.7,256.1Q82.0,256.5 80.0,258.8M111.6,234.7Q112.6,232.6 114.8,231.5M108.1,201.3Q111.0,201.6 113.0,203.8M106.7,247.2Q109.1,247.7 111.0,248.8M90.7,268.7Q87.8,267.4 86.7,265.1M92.6,153.8Q90.6,155.3 87.5,156.8M92.5,323.2Q93.6,321.4 95.9,321.4M105.1,222.1Q107.1,222.7 109.8,224.6M83.8,215.7Q80.5,215.1 78.0,213.3M105.4,180.9Q108.3,182.8 109.9,182.9M78.2,314.3Q75.9,313.8 75.1,311.7M91.0,317.2Q93.9,319.7 96.9,319.9M84.2,233.4Q82.2,231.8 80.9,232.2M107.5,172.4Q109.8,174.3 111.7,175.2M93.7,339.0Q95.0,337.1 98.0,335.7M104.9,108.7Q108.8,109.8 111.4,109.5M107.5,149.3Q109.0,148.7 112.7,147.3M93.2,231.8Q91.2,233.4 88.9,232.6M81.4,354.3Q80.0,356.8 76.8,357.9M94.7,162.4Q92.8,164.1 91.5,164.0M99.9,298.8Q102.5,299.2 105.6,299.6M88.2,335.0Q90.6,334.2 91.6,332.2M104.9,92.3Q107.4,92.5 108.4,91.4M91.8,88.6Q90.1,88.2 88.3,88.8M88.0,107.9Q86.3,106.3 83.7,105.4M101.7,306.2Q104.7,305.8 106.5,305.9M105.7,233.0Q107.1,233.4 108.7,236.0M103.6,258.0Q105.5,259.7 107.1,261.1M85.7,127.5Q85.0,125.9 82.6,125.0M77.9,332.9Q76.3,332.7 74.0,334.7M83.7,187.3Q81.7,188.9 80.2,188.7M94.5,133.0Q92.3,134.7 90.8,134.6M97.5,317.1Q98.9,317.4 101.5,315.7M107.8,137.6Q109.7,138.5 112.0,139.1M93.6,245.3Q90.7,246.6 89.2,246.8M94.3,174.9Q91.3,175.3 88.5,177.0M86.7,140.6Q84.4,140.4 82.7,138.0M108.7,264.8Q111.8,266.2 114.8,265.3M81.0,290.4Q79.3,289.3 75.4,289.2M107.9,160.4Q109.6,162.7 113.2,163.0M90.3,303.9Q88.5,305.6 86.3,306.1M84.7,273.8Q82.0,271.9 79.0,271.1M93.6,82.6Q91.5,82.8 89.8,84.2M100.2,252.4Q101.6,252.5 104.5,251.1M84.1,315.5Q80.7,315.4 78.3,314.5M87.8,328.9Q90.8,328.8 93.5,328.3M86.0,162.5Q83.2,161.5 80.2,161.5M89.7,64.1Q87.2,65.5 85.3,67.0M103.0,238.5Q105.8,237.4 109.4,238.4M90.8,199.0Q87.6,196.8 86.6,196.1M78.7,304.6Q75.0,303.5 73.0,302.1M107.2,123.2Q108.5,121.8 111.4,122.6M89.9,215.1Q88.6,215.4 86.1,217.6M90.0,189.1Q88.2,189.9 84.3,189.8M84.5,209.8Q81.4,209.6 79.6,210.0M78.0,348.9Q75.0,350.2 72.3,351.5M87.4,354.4Q88.7,355.0 91.3,355.1M108.0,186.6Q108.6,188.4 110.9,188.8M92.4,145.7Q89.2,145.1 87.8,145.3M99.7,140.9Q100.9,142.9 104.4,143.3M100.9,226.8Q103.2,227.7 107.0,227.9M79.0,33.0Q79.5,37.6 82.0,40.0Q82.2,44.0 85.0,47.0Q85.5,49.9 89.0,54.0Q92.8,56.8 93.0,61.0Q95.0,64.4 96.0,68.0Q97.3,71.5 99.0,75.0Q98.9,79.3 101.0,82.0Q100.0,85.4 102.0,90.0Q99.3,92.4 100.0,96.0M80.5,36.5Q81.7,35.9 83.8,33.4M83.5,43.5Q81.6,44.8 80.3,45.4M87.0,50.5Q88.1,49.0 90.7,49.1M91.0,57.5Q92.2,57.9 93.0,57.4M94.5,64.5Q94.9,65.1 96.7,64.6M97.5,71.5Q96.8,73.0 94.7,74.5M100.0,78.5Q100.3,79.0 102.2,77.9M101.5,86.0Q98.8,85.4 98.0,85.4M101.0,93.0Q103.2,93.3 103.8,95.0M88.0,350.0Q85.1,354.0 85.0,357.0Q85.0,361.6 84.0,364.0Q81.7,366.4 81.0,370.0Q82.3,373.9 82.0,377.0Q79.8,380.9 79.0,384.0M86.5,353.5Q89.8,353.4 91.5,353.9M84.5,360.5Q82.3,359.5 79.8,357.9M82.5,367.0Q84.0,367.0 87.2,368.2M81.5,373.5Q83.8,373.8 85.6,372.7M80.5,380.5Q78.3,379.3 77.4,379.7M78.0,350.0Q79.2,352.3 77.0,357.0Q78.3,359.7 78.0,364.0M77.5,353.5Q76.6,354.6 74.3,353.7M77.5,360.5Q78.9,359.2 81.3,359.0" fill="none" stroke="#6ac6dc" stroke-width="1.5" stroke-linecap="round" stroke-linejoin="round"/>
<path d="M264.6,98.9Q256.9,100.0 249.1,99.5M249.1,99.5Q244.7,99.6 242.9,96.1M249.1,99.5Q244.7,99.6 243.1,103.3M305.3,98.9Q314.4,100.0 323.5,99.5M323.5,99.5Q328.6,99.6 330.5,103.3M323.5,99.5Q328.6,99.6 330.7,96.1M261.9,113.1Q255.1,114.2 248.3,113.8M248.3,113.8Q244.5,114.0 242.8,110.5M248.3,113.8Q244.5,114.0 243.2,117.6M307.7,113.1Q315.5,114.2 323.4,113.8M323.4,113.8Q327.8,114.0 329.3,117.6M323.4,113.8Q327.8,114.0 329.7,110.5M259.7,128.2Q253.1,129.4 246.4,129.0M246.4,129.0Q242.7,129.2 241.0,125.7M246.4,129.0Q242.7,129.2 241.5,132.9M309.1,128.2Q316.5,129.4 324.0,129.0M324.0,129.0Q328.2,129.2 329.7,132.9M324.0,129.0Q328.2,129.2 330.1,125.7M257.8,143.3Q251.4,144.6 244.8,144.2M244.8,144.2Q241.1,144.5 239.4,141.0M244.8,144.2Q241.1,144.5 239.9,148.2M310.3,143.3Q317.5,144.6 324.9,144.2M324.9,144.2Q328.9,144.5 330.3,148.2M324.9,144.2Q328.9,144.5 330.8,141.0M257.1,159.3Q250.4,160.6 243.6,160.4M243.6,160.4Q239.8,160.7 238.0,157.2M243.6,160.4Q239.8,160.7 238.6,164.4M311.6,159.3Q318.7,160.6 325.9,160.4M325.9,160.4Q329.9,160.7 331.2,164.4M325.9,160.4Q329.9,160.7 331.7,157.2M256.6,176.2Q249.7,177.6 242.6,177.4M242.6,177.4Q238.7,177.7 236.8,174.3M242.6,177.4Q238.7,177.7 237.4,181.5M312.5,176.2Q319.6,177.6 326.8,177.4M326.8,177.4Q330.8,177.7 332.1,181.5M326.8,177.4Q330.8,177.7 332.7,174.3M256.6,192.2Q249.4,193.7 242.0,193.5M242.0,193.5Q237.9,193.9 236.0,190.5M242.0,193.5Q237.9,193.9 236.6,197.6M312.5,192.2Q319.9,193.7 327.4,193.5M327.4,193.5Q331.5,193.9 332.9,197.6M327.4,193.5Q331.5,193.9 333.5,190.5M256.8,207.3Q249.2,208.8 241.5,208.8M241.5,208.8Q237.2,209.2 235.2,205.8M241.5,208.8Q237.2,209.2 235.9,212.9M312.5,207.3Q320.2,208.8 328.0,208.8M328.0,208.8Q332.2,209.2 333.6,212.9M328.0,208.8Q332.2,209.2 334.3,205.8M257.4,224.2Q249.7,225.8 241.8,225.8M241.8,225.8Q237.5,226.3 235.4,222.9M241.8,225.8Q237.5,226.3 236.1,230.0M311.7,224.2Q319.7,225.8 327.9,225.8M327.9,225.8Q332.4,226.3 333.9,230.0M327.9,225.8Q332.4,226.3 334.6,222.9M258.5,241.5Q250.5,243.2 242.3,243.3M242.3,243.3Q237.8,243.7 235.6,240.4M242.3,243.3Q237.8,243.7 236.4,247.5M310.6,241.5Q319.1,243.2 327.8,243.3M327.8,243.3Q332.6,243.7 334.1,247.5M327.8,243.3Q332.6,243.7 334.8,240.4M260.6,257.0Q252.6,258.7 244.4,258.9M244.4,258.9Q239.9,259.4 237.7,256.0M244.4,258.9Q239.9,259.4 238.5,263.2M308.8,257.0Q317.2,258.7 325.7,258.9M325.7,258.9Q330.3,259.4 331.8,263.2M325.7,258.9Q330.3,259.4 332.6,256.0M263.3,272.9Q255.2,274.7 246.8,274.9M246.8,274.9Q242.2,275.5 239.9,272.1M246.8,274.9Q242.2,275.5 240.8,279.3M306.5,272.9Q314.7,274.7 323.2,274.9M323.2,274.9Q327.8,275.5 329.2,279.3M323.2,274.9Q327.8,275.5 330.1,272.1M266.0,288.2Q258.2,290.1 250.2,290.3M250.2,290.3Q245.8,290.9 243.6,287.6M250.2,290.3Q245.8,290.9 244.6,294.7M304.1,288.2Q312.3,290.1 320.6,290.3M320.6,290.3Q325.2,290.9 326.6,294.7M320.6,290.3Q325.2,290.9 327.5,287.6M268.6,303.5Q261.6,305.4 254.3,305.8M254.3,305.8Q250.4,306.4 248.2,303.1M254.3,305.8Q250.4,306.4 249.3,310.2M301.8,303.5Q309.2,305.4 316.9,305.8M316.9,305.8Q321.1,306.4 322.2,310.2M316.9,305.8Q321.1,306.4 323.3,303.1M271.4,318.2Q265.2,320.2 258.8,320.6M258.8,320.6Q255.3,321.3 253.2,318.0M258.8,320.6Q255.3,321.3 254.6,325.1M299.5,318.2Q305.5,320.2 311.9,320.6M311.9,320.6Q315.3,321.3 316.0,325.1M311.9,320.6Q315.3,321.3 317.4,318.0M273.7,332.0Q268.8,334.0 263.5,334.5M263.5,334.5Q260.6,335.2 258.6,332.0M263.5,334.5Q260.6,335.2 260.3,339.0M297.0,332.0Q301.9,334.0 307.2,334.5M307.2,334.5Q310.0,335.2 310.2,339.0M307.2,334.5Q310.0,335.2 312.0,332.0M275.7,344.0Q271.9,346.1 267.5,346.6M267.5,346.6Q265.3,347.3 263.3,344.2M267.5,346.6Q265.3,347.3 265.4,351.0M294.8,344.0Q298.7,346.1 303.0,346.6M303.0,346.6Q305.3,347.3 305.2,351.0M303.0,346.6Q305.3,347.3 307.3,344.2M278.1,356.0Q275.2,358.1 271.7,358.7M271.7,358.7Q269.9,359.5 267.8,356.4M271.7,358.7Q269.9,359.5 270.6,363.1M292.6,356.0Q295.4,358.1 298.9,358.7M298.9,358.7Q300.7,359.5 300.0,363.1M298.9,358.7Q300.7,359.5 302.8,356.4" fill="none" stroke="#a88a62" stroke-width="1.35" stroke-linecap="round"/>
<path d="M281.0,45.0Q280.4,37.8 279.7,30.5M279.7,30.5Q279.4,26.3 281.9,23.5M279.7,30.5Q279.4,26.3 276.3,24.0M287.0,45.0Q287.6,37.8 288.3,30.5M288.3,30.5Q288.6,26.3 291.7,24.0M288.3,30.5Q288.6,26.3 286.1,23.5M278.0,47.0Q275.7,42.6 273.3,38.2M273.3,38.2Q271.9,35.6 273.6,32.7M273.3,38.2Q271.9,35.6 268.6,35.3M290.0,47.0Q292.7,42.0 295.3,37.0M295.3,37.0Q296.9,34.0 300.3,33.6M295.3,37.0Q296.9,34.0 295.4,30.9M274.0,50.0Q271.0,47.5 268.0,45.0M268.0,45.0Q266.2,43.5 267.0,40.4M268.0,45.0Q266.2,43.5 263.4,44.7M294.0,50.0Q297.7,46.9 301.4,43.8M301.4,43.8Q303.6,41.9 306.7,43.0M301.4,43.8Q303.6,41.9 303.1,38.7M270.0,53.0Q266.9,51.5 263.8,50.1M263.8,50.1Q261.9,49.2 262.0,46.2M263.8,50.1Q261.9,49.2 259.6,51.3M298.0,53.0Q302.2,51.1 306.3,49.1M306.3,49.1Q308.7,48.0 311.4,49.8M306.3,49.1Q308.7,48.0 309.0,44.8M266.0,57.0Q262.6,56.3 259.3,55.6M259.3,55.6Q257.3,55.2 256.7,52.2M259.3,55.6Q257.3,55.2 255.5,57.6M302.0,57.0Q306.5,56.0 311.1,55.1M311.1,55.1Q313.8,54.5 315.9,56.9M311.1,55.1Q313.8,54.5 314.8,51.4M262.0,64.0Q257.5,63.8 253.0,63.7M253.0,63.7Q250.4,63.6 248.9,60.7M253.0,63.7Q250.4,63.6 248.7,66.3M306.0,64.0Q311.7,63.7 317.4,63.4M317.4,63.4Q320.8,63.2 323.0,65.9M317.4,63.4Q320.8,63.2 322.7,60.3M257.0,73.0Q252.0,73.2 247.0,73.3M247.0,73.3Q244.1,73.5 242.2,70.7M247.0,73.3Q244.1,73.5 242.4,76.3M312.0,72.0Q318.1,72.2 324.2,72.4M324.2,72.4Q327.8,72.6 329.9,75.4M324.2,72.4Q327.8,72.6 330.0,69.8M257.0,83.0Q250.7,83.6 244.4,84.1M244.4,84.1Q240.7,84.4 238.2,81.8M244.4,84.1Q240.7,84.4 238.7,87.4M313.0,83.0Q320.5,83.7 327.9,84.3M327.9,84.3Q332.3,84.7 334.7,87.7M327.9,84.3Q332.3,84.7 335.2,82.1M258.0,92.0Q252.0,92.8 246.0,93.7M246.0,93.7Q242.5,94.2 240.0,91.7M246.0,93.7Q242.5,94.2 240.8,97.2M312.0,92.0Q319.1,93.0 326.2,94.0M326.2,94.0Q330.3,94.6 332.5,97.7M326.2,94.0Q330.3,94.6 333.2,92.2" fill="none" stroke="#bb9c6c" stroke-width="1.15" stroke-linecap="round"/>
<path d="M264.6,98.9L305.3,98.9M261.9,113.1L307.7,113.1M259.7,128.2L309.1,128.2M257.8,143.3L310.3,143.3M257.1,159.3L311.6,159.3M256.6,176.2L312.5,176.2M256.6,192.2L312.5,192.2M256.8,207.3L312.5,207.3M257.4,224.2L311.7,224.2M258.5,241.5L310.6,241.5M260.6,257.0L308.8,257.0M263.3,272.9L306.5,272.9M266.0,288.2L304.1,288.2M268.6,303.5L301.8,303.5M271.4,318.2L299.5,318.2M273.7,332.0L297.0,332.0M275.7,344.0L294.8,344.0M278.1,356.0L292.6,356.0" stroke="#f2d2c8" stroke-width="6" fill="none" opacity="0.5"/>
<path d="M264.6,98.9L305.3,98.9M261.9,113.1L307.7,113.1M259.7,128.2L309.1,128.2M257.8,143.3L310.3,143.3M257.1,159.3L311.6,159.3M256.6,176.2L312.5,176.2M256.6,192.2L312.5,192.2M256.8,207.3L312.5,207.3M257.4,224.2L311.7,224.2M258.5,241.5L310.6,241.5M260.6,257.0L308.8,257.0M263.3,272.9L306.5,272.9M266.0,288.2L304.1,288.2M268.6,303.5L301.8,303.5M271.4,318.2L299.5,318.2M273.7,332.0L297.0,332.0M275.7,344.0L294.8,344.0M278.1,356.0L292.6,356.0" stroke="#964d84" stroke-width="3.1" fill="none"/>
<path d="M264.6,98.9L305.3,98.9M261.9,113.1L307.7,113.1M259.7,128.2L309.1,128.2M257.8,143.3L310.3,143.3M257.1,159.3L311.6,159.3M256.6,176.2L312.5,176.2M256.6,192.2L312.5,192.2M256.8,207.3L312.5,207.3M257.4,224.2L311.7,224.2M258.5,241.5L310.6,241.5M260.6,257.0L308.8,257.0M263.3,272.9L306.5,272.9M266.0,288.2L304.1,288.2M268.6,303.5L301.8,303.5M271.4,318.2L299.5,318.2M273.7,332.0L297.0,332.0M275.7,344.0L294.8,344.0M278.1,356.0L292.6,356.0" stroke="#a8648f" stroke-width="1.1" fill="none"/>
<path d="M265.0,97.0 C264.4,100.0 262.7,107.8 261.5,115.0 C260.3,122.2 258.8,130.8 258.0,140.0 C257.2,149.2 256.8,160.0 256.6,170.0 C256.4,180.0 256.4,190.0 256.6,200.0 C256.8,210.0 257.3,223.3 257.6,230.0 C257.9,236.7 257.7,235.0 258.3,240.0 C258.9,245.0 260.6,256.7 261.0,260.0" stroke="#a64fa6" stroke-width="6.6" fill="none" stroke-linecap="round" stroke-linejoin="round"/>
<path d="M261.0,260.0 C261.6,263.3 263.4,273.3 264.6,280.0 C265.8,286.7 267.4,296.7 268.0,300.0" stroke="#a04b9e" stroke-width="5.4" fill="none" stroke-linecap="round" stroke-linejoin="round"/>
<path d="M268.0,300.0 C268.6,303.3 270.5,313.3 271.7,320.0 C272.9,326.7 274.4,336.7 275.0,340.0" stroke="#9a4898" stroke-width="4.5" fill="none" stroke-linecap="round" stroke-linejoin="round"/>
<path d="M275.0,340.0 C275.5,342.5 276.9,350.8 277.8,355.0 C278.7,359.2 279.7,362.3 280.6,365.0 C281.5,367.7 282.2,369.3 283.0,371.0 C283.8,372.7 285.1,374.3 285.5,375.0" stroke="#924494" stroke-width="3.8" fill="none" stroke-linecap="round" stroke-linejoin="round"/>
<path d="M305.0,97.0 C305.5,100.0 307.2,107.8 308.0,115.0 C308.8,122.2 309.2,130.8 310.0,140.0 C310.8,149.2 312.1,158.3 312.5,170.0 C312.9,181.7 312.8,198.3 312.5,210.0 C312.2,221.7 311.5,231.7 310.8,240.0 C310.1,248.3 308.9,256.7 308.5,260.0" stroke="#a64fa6" stroke-width="6.6" fill="none" stroke-linecap="round" stroke-linejoin="round"/>
<path d="M308.5,260.0 C308.0,263.3 306.4,273.3 305.4,280.0 C304.4,286.7 302.8,296.7 302.3,300.0" stroke="#a04b9e" stroke-width="5.4" fill="none" stroke-linecap="round" stroke-linejoin="round"/>
<path d="M302.3,300.0 C301.8,303.3 300.3,313.3 299.2,320.0 C298.1,326.7 296.1,336.7 295.5,340.0" stroke="#9a4898" stroke-width="4.5" fill="none" stroke-linecap="round" stroke-linejoin="round"/>
<path d="M295.5,340.0 C295.1,342.5 293.6,350.8 292.8,355.0 C292.0,359.2 291.4,362.3 290.6,365.0 C289.8,367.7 289.1,369.3 288.2,371.0 C287.3,372.7 285.9,374.3 285.5,375.0" stroke="#924494" stroke-width="3.8" fill="none" stroke-linecap="round" stroke-linejoin="round"/>
<path d="M265.0,97.0 C264.4,100.0 262.7,107.8 261.5,115.0 C260.3,122.2 258.8,130.8 258.0,140.0 C257.2,149.2 256.8,160.0 256.6,170.0 C256.4,180.0 256.4,190.0 256.6,200.0 C256.8,210.0 257.3,223.3 257.6,230.0 C257.9,236.7 257.7,235.0 258.3,240.0 C258.9,245.0 260.6,256.7 261.0,260.0" stroke="#d57bd1" stroke-width="2.77" fill="none" stroke-linecap="round" stroke-linejoin="round"/>
<path d="M261.0,260.0 C261.6,263.3 263.4,273.3 264.6,280.0 C265.8,286.7 267.4,296.7 268.0,300.0" stroke="#cc72c8" stroke-width="2.27" fill="none" stroke-linecap="round" stroke-linejoin="round"/>
<path d="M268.0,300.0 C268.6,303.3 270.5,313.3 271.7,320.0 C272.9,326.7 274.4,336.7 275.0,340.0" stroke="#c068bc" stroke-width="1.89" fill="none" stroke-linecap="round" stroke-linejoin="round"/>
<path d="M275.0,340.0 C275.5,342.5 276.9,350.8 277.8,355.0 C278.7,359.2 279.7,362.3 280.6,365.0 C281.5,367.7 282.2,369.3 283.0,371.0 C283.8,372.7 285.1,374.3 285.5,375.0" stroke="#b460b0" stroke-width="1.60" fill="none" stroke-linecap="round" stroke-linejoin="round"/>
<path d="M305.0,97.0 C305.5,100.0 307.2,107.8 308.0,115.0 C308.8,122.2 309.2,130.8 310.0,140.0 C310.8,149.2 312.1,158.3 312.5,170.0 C312.9,181.7 312.8,198.3 312.5,210.0 C312.2,221.7 311.5,231.7 310.8,240.0 C310.1,248.3 308.9,256.7 308.5,260.0" stroke="#d57bd1" stroke-width="2.77" fill="none" stroke-linecap="round" stroke-linejoin="round"/>
<path d="M308.5,260.0 C308.0,263.3 306.4,273.3 305.4,280.0 C304.4,286.7 302.8,296.7 302.3,300.0" stroke="#cc72c8" stroke-width="2.27" fill="none" stroke-linecap="round" stroke-linejoin="round"/>
<path d="M302.3,300.0 C301.8,303.3 300.3,313.3 299.2,320.0 C298.1,326.7 296.1,336.7 295.5,340.0" stroke="#c068bc" stroke-width="1.89" fill="none" stroke-linecap="round" stroke-linejoin="round"/>
<path d="M295.5,340.0 C295.1,342.5 293.6,350.8 292.8,355.0 C292.0,359.2 291.4,362.3 290.6,365.0 C289.8,367.7 289.1,369.3 288.2,371.0 C287.3,372.7 285.9,374.3 285.5,375.0" stroke="#b460b0" stroke-width="1.60" fill="none" stroke-linecap="round" stroke-linejoin="round"/>
<path d="M261.5,101 C258,96 256,90 255.8,84 C255.5,77 257,72 260.2,68.9 C262.5,66 265,63.5 267.2,61.1 L281.5,45 C283,43.4 285.5,43.4 287,45 L298.3,59.5 C302,62 306,64.5 308.4,67.3 C312.5,71 314.6,74 314.6,78 C314.6,86 312.5,92 309.5,100.5 L302,101 C301,92 300.3,80 300.3,65.2 L285.6,50.6 C284.9,49.9 283.7,49.9 283,50.6 L270.3,64.5 C270.3,80 269.6,92 268.4,101 Z" fill="url(#brainG)" stroke="#a855a8" stroke-width="1.5" stroke-linejoin="round"/>
<ellipse cx="535.5" cy="287" rx="7.2" ry="11.5" fill="#f1c23e" stroke="#e2a432" stroke-width="1.2"/>
<ellipse cx="535.5" cy="285" rx="3.2" ry="7" fill="#f7da70"/>
<path d="M511,228 C515,226 519,227 521,232 C523,238 523,244 524,250" fill="none" stroke="#5e6ebc" stroke-width="4.2" stroke-linecap="round" stroke-linejoin="round"/>
<path d="M511,228 C515,226 519,227 521,232 C523,238 523,244 524,250" fill="none" stroke="#9aa6e2" stroke-width="1.9" stroke-linecap="round" stroke-linejoin="round"/>
<path d="M556,227 C552,228 548,230 546,236 C544,244 544.5,262 544,278 C543.5,292 540,302 536.5,314" fill="none" stroke="#5e6ebc" stroke-width="4.2" stroke-linecap="round" stroke-linejoin="round"/>
<path d="M556,227 C552,228 548,230 546,236 C544,244 544.5,262 544,278 C543.5,292 540,302 536.5,314" fill="none" stroke="#9aa6e2" stroke-width="1.9" stroke-linecap="round" stroke-linejoin="round"/>
<path d="M528,272 C529,286 532,300 535,318" fill="none" stroke="#6c72c0" stroke-width="3" stroke-linecap="round" stroke-linejoin="round"/>
<path d="M528,272 C529,286 532,300 535,318" fill="none" stroke="#a4aae6" stroke-width="1.3" stroke-linecap="round" stroke-linejoin="round"/>
<path d="M541,270 C540,284 538,300 535.5,318" fill="none" stroke="#6c72c0" stroke-width="3" stroke-linecap="round" stroke-linejoin="round"/>
<path d="M541,270 C540,284 538,300 535.5,318" fill="none" stroke="#a4aae6" stroke-width="1.3" stroke-linecap="round" stroke-linejoin="round"/>
<path d="M524,298 C528,306 531,313 534,321 M547,298 C543,306 540,313 537,321 M531,296 L535,320 L539,296" fill="none" stroke="#b86aa6" stroke-width="1.7"/>
<path d="M523.5,264 C522,280 524,302 528.5,322" fill="none" stroke="#3f9a36" stroke-width="5.4" stroke-linecap="round" stroke-linejoin="round"/>
<path d="M523.5,264 C522,280 524,302 528.5,322" fill="none" stroke="#66c24e" stroke-width="2.6" stroke-linecap="round" stroke-linejoin="round"/>
<path d="M520.5,262 C519.5,253 524.5,250.5 531,250.5 C538,250.5 542,254 542,259.5 C542,265.5 537,269.5 531.5,270 C528,270.5 526,272 525.5,276 L521,275 C520.5,270 520.8,266 520.5,262 Z" fill="#52b040" stroke="#3a9030" transform="translate(-2,0)" stroke-width="1.3"/>
<ellipse cx="530" cy="256.5" rx="6" ry="3.6" fill="#86d06a" opacity="0.8"/>
<path d="M522.5,318.5 C525,321 527,324 527.5,329 C528,333 530,336.5 534.5,336.8 C539,336.5 541,333 541.5,329 C542,324 544,321 546.5,318.5" fill="#f6eaa0" stroke="#a08a3a" stroke-width="1.3"/>
<ellipse cx="534" cy="334.3" rx="3.8" ry="2.2" fill="#8a7a30"/>
<path d="M499.0,134.8L507.0,136.3M496.7,168.0L505.0,169.5M494.5,202.7L502.9,204.2M494.5,241.3L503.2,242.8M497.0,276.0L504.4,277.5M501.0,306.0L507.9,307.5M508.0,332.0L512.4,333.5M514.0,357.0L518.0,358.5M569.0,134.0L559.5,135.5M572.0,168.0L562.8,169.5M573.5,201.3L564.0,202.8M573.5,240.8L564.5,242.3M572.0,276.0L563.3,277.5M566.0,306.0L559.5,307.5M560.5,331.0L554.8,332.5M553.0,356.0L548.8,357.5" stroke="#d0607a" stroke-width="1.5" fill="none"/>
<path d="M491.0,185.3L512.4,186.3M488.8,221.5L511.1,222.5M489.3,258.7L510.9,259.7M492.0,292.0L513.2,293.0M499.0,320.5L516.6,321.5M508.0,347.0L521.3,348.0M579.0,185.3L557.9,186.3M579.5,222.7L558.7,223.7M579.5,260.0L557.9,261.0M575.0,292.5L555.1,293.5M567.3,320.8L550.6,321.8M557.0,347.0L545.2,348.0" stroke="#6a78c0" stroke-width="1.6" fill="none"/>
<path d="M494.0,152.0 C495.6,152.2 501.0,152.5 503.7,153.4 C506.4,154.3 508.6,155.6 510.0,157.3 C511.4,159.0 511.9,160.6 512.3,163.5 C512.7,166.4 512.6,168.9 512.6,175.0 C512.6,181.1 512.3,191.7 512.0,200.0 C511.7,208.3 511.2,216.7 511.0,225.0 C510.8,233.3 510.7,241.7 510.7,250.0 C510.7,258.3 510.8,268.3 511.2,275.0 C511.6,281.7 512.4,284.2 513.0,290.0 C513.6,295.8 514.2,303.3 515.0,310.0 C515.8,316.7 516.9,323.7 518.0,330.0 C519.1,336.3 520.3,342.7 521.5,348.0 C522.7,353.3 524.4,359.7 525.0,362.0" fill="none" stroke="#6270bc" stroke-width="4.2" stroke-linecap="round"/>
<path d="M494.0,152.0 C495.6,152.2 501.0,152.5 503.7,153.4 C506.4,154.3 508.6,155.6 510.0,157.3 C511.4,159.0 511.9,160.6 512.3,163.5 C512.7,166.4 512.6,168.9 512.6,175.0 C512.6,181.1 512.3,191.7 512.0,200.0 C511.7,208.3 511.2,216.7 511.0,225.0 C510.8,233.3 510.7,241.7 510.7,250.0 C510.7,258.3 510.8,268.3 511.2,275.0 C511.6,281.7 512.4,284.2 513.0,290.0 C513.6,295.8 514.2,303.3 515.0,310.0 C515.8,316.7 516.9,323.7 518.0,330.0 C519.1,336.3 520.3,342.7 521.5,348.0 C522.7,353.3 524.4,359.7 525.0,362.0" fill="none" stroke="#98a4e2" stroke-width="1.8" stroke-linecap="round"/>
<path d="M573.0,152.0 C571.7,152.2 567.1,152.4 565.0,153.2 C562.9,153.9 561.6,155.0 560.5,156.5 C559.4,158.0 558.8,158.9 558.3,162.0 C557.8,165.1 557.8,168.7 557.8,175.0 C557.8,181.3 557.8,191.7 558.0,200.0 C558.2,208.3 558.7,216.7 558.8,225.0 C558.9,233.3 558.8,241.7 558.5,250.0 C558.2,258.3 557.5,268.3 557.0,275.0 C556.5,281.7 556.2,284.2 555.5,290.0 C554.8,295.8 553.6,303.3 552.5,310.0 C551.4,316.7 550.2,323.7 549.0,330.0 C547.8,336.3 546.3,342.7 545.0,348.0 C543.7,353.3 541.7,359.7 541.0,362.0" fill="none" stroke="#6270bc" stroke-width="4.2" stroke-linecap="round"/>
<path d="M573.0,152.0 C571.7,152.2 567.1,152.4 565.0,153.2 C562.9,153.9 561.6,155.0 560.5,156.5 C559.4,158.0 558.8,158.9 558.3,162.0 C557.8,165.1 557.8,168.7 557.8,175.0 C557.8,181.3 557.8,191.7 558.0,200.0 C558.2,208.3 558.7,216.7 558.8,225.0 C558.9,233.3 558.8,241.7 558.5,250.0 C558.2,258.3 557.5,268.3 557.0,275.0 C556.5,281.7 556.2,284.2 555.5,290.0 C554.8,295.8 553.6,303.3 552.5,310.0 C551.4,316.7 550.2,323.7 549.0,330.0 C547.8,336.3 546.3,342.7 545.0,348.0 C543.7,353.3 541.7,359.7 541.0,362.0" fill="none" stroke="#98a4e2" stroke-width="1.8" stroke-linecap="round"/>
<path d="M508.5,124.0 C508.2,126.0 507.4,127.8 506.8,136.0 C506.2,144.2 505.4,161.0 504.7,173.0 C504.0,185.0 502.9,199.3 502.6,208.0 C502.3,216.7 502.6,218.0 502.7,225.0 C502.8,232.0 503.2,240.8 503.5,250.0 C503.8,259.2 503.9,271.7 504.5,280.0 C505.1,288.3 506.1,293.3 507.0,300.0 C507.9,306.7 508.8,313.3 510.0,320.0 C511.2,326.7 512.7,333.8 514.0,340.0 C515.3,346.2 516.5,351.7 518.0,357.0 C519.5,362.3 522.2,369.5 523.0,372.0" fill="none" stroke="#d26e82" stroke-width="3.4" stroke-linecap="round"/>
<path d="M508.5,124.0 C508.2,126.0 507.4,127.8 506.8,136.0 C506.2,144.2 505.4,161.0 504.7,173.0 C504.0,185.0 502.9,199.3 502.6,208.0 C502.3,216.7 502.6,218.0 502.7,225.0 C502.8,232.0 503.2,240.8 503.5,250.0 C503.8,259.2 503.9,271.7 504.5,280.0 C505.1,288.3 506.1,293.3 507.0,300.0 C507.9,306.7 508.8,313.3 510.0,320.0 C511.2,326.7 512.7,333.8 514.0,340.0 C515.3,346.2 516.5,351.7 518.0,357.0 C519.5,362.3 522.2,369.5 523.0,372.0" fill="none" stroke="#e89aa6" stroke-width="1.5" stroke-linecap="round"/>
<path d="M558.2,124.0 C558.5,126.0 559.1,130.0 559.8,136.0 C560.5,142.0 561.8,149.3 562.5,160.0 C563.2,170.7 563.7,188.3 564.0,200.0 C564.3,211.7 564.4,220.0 564.5,230.0 C564.6,240.0 564.8,251.7 564.5,260.0 C564.2,268.3 563.7,273.3 563.0,280.0 C562.3,286.7 561.5,293.3 560.5,300.0 C559.5,306.7 558.2,313.3 557.0,320.0 C555.8,326.7 554.4,333.8 553.0,340.0 C551.6,346.2 550.0,351.7 548.5,357.0 C547.0,362.3 544.8,369.5 544.0,372.0" fill="none" stroke="#d26e82" stroke-width="3.4" stroke-linecap="round"/>
<path d="M558.2,124.0 C558.5,126.0 559.1,130.0 559.8,136.0 C560.5,142.0 561.8,149.3 562.5,160.0 C563.2,170.7 563.7,188.3 564.0,200.0 C564.3,211.7 564.4,220.0 564.5,230.0 C564.6,240.0 564.8,251.7 564.5,260.0 C564.2,268.3 563.7,273.3 563.0,280.0 C562.3,286.7 561.5,293.3 560.5,300.0 C559.5,306.7 558.2,313.3 557.0,320.0 C555.8,326.7 554.4,333.8 553.0,340.0 C551.6,346.2 550.0,351.7 548.5,357.0 C547.0,362.3 544.8,369.5 544.0,372.0" fill="none" stroke="#e89aa6" stroke-width="1.5" stroke-linecap="round"/>
<path d="M485.2,152.0 C485.2,148.0 490.8,147.8 493.0,150.2 L496.5,152.3 L493.0,154.4 C490.8,156.4 485.2,156.0 485.2,152.0 Z" fill="#8a96da" stroke="#6674c0" stroke-width="0.9"/>
<ellipse cx="489.0" cy="150.9" rx="2.6" ry="1.4" fill="#c8cff5"/>
<path d="M486.2,185.3 C486.2,181.3 491.8,181.1 494.0,183.5 L497.5,185.6 L494.0,187.7 C491.8,189.7 486.2,189.3 486.2,185.3 Z" fill="#8a96da" stroke="#6674c0" stroke-width="0.9"/>
<ellipse cx="490.0" cy="184.2" rx="2.6" ry="1.4" fill="#c8cff5"/>
<path d="M484.0,221.5 C484.0,217.5 489.6,217.3 491.8,219.7 L495.3,221.8 L491.8,223.9 C489.6,225.9 484.0,225.5 484.0,221.5 Z" fill="#8a96da" stroke="#6674c0" stroke-width="0.9"/>
<ellipse cx="487.8" cy="220.4" rx="2.6" ry="1.4" fill="#c8cff5"/>
<path d="M484.5,258.7 C484.5,254.7 490.1,254.5 492.3,256.9 L495.8,259.0 L492.3,261.1 C490.1,263.1 484.5,262.7 484.5,258.7 Z" fill="#8a96da" stroke="#6674c0" stroke-width="0.9"/>
<ellipse cx="488.3" cy="257.6" rx="2.6" ry="1.4" fill="#c8cff5"/>
<path d="M487.5,292.0 C487.5,288.2 492.8,288.0 494.8,290.3 L498.1,292.3 L494.8,294.3 C492.8,296.2 487.5,295.8 487.5,292.0 Z" fill="#8a96da" stroke="#6674c0" stroke-width="0.9"/>
<ellipse cx="491.1" cy="290.9" rx="2.6" ry="1.4" fill="#c8cff5"/>
<path d="M494.8,320.5 C494.8,317.0 499.7,316.8 501.6,318.9 L504.7,320.8 L501.6,322.6 C499.7,324.3 494.8,324.0 494.8,320.5 Z" fill="#8a96da" stroke="#6674c0" stroke-width="0.9"/>
<ellipse cx="498.1" cy="319.4" rx="2.6" ry="1.4" fill="#c8cff5"/>
<path d="M504.1,347.0 C504.1,343.8 508.6,343.6 510.4,345.5 L513.2,347.3 L510.4,348.9 C508.6,350.6 504.1,350.2 504.1,347.0 Z" fill="#8a96da" stroke="#6674c0" stroke-width="0.9"/>
<ellipse cx="507.2" cy="345.9" rx="2.6" ry="1.4" fill="#c8cff5"/>
<path d="M582.8,152.0 C582.8,148.0 577.2,147.8 575.0,150.2 L571.5,152.3 L575.0,154.4 C577.2,156.4 582.8,156.0 582.8,152.0 Z" fill="#8a96da" stroke="#6674c0" stroke-width="0.9"/>
<ellipse cx="579.0" cy="150.9" rx="2.6" ry="1.4" fill="#c8cff5"/>
<path d="M583.8,185.3 C583.8,181.3 578.2,181.1 576.0,183.5 L572.5,185.6 L576.0,187.7 C578.2,189.7 583.8,189.3 583.8,185.3 Z" fill="#8a96da" stroke="#6674c0" stroke-width="0.9"/>
<ellipse cx="580.0" cy="184.2" rx="2.6" ry="1.4" fill="#c8cff5"/>
<path d="M584.3,222.7 C584.3,218.7 578.7,218.5 576.5,220.9 L573.0,223.0 L576.5,225.1 C578.7,227.1 584.3,226.7 584.3,222.7 Z" fill="#8a96da" stroke="#6674c0" stroke-width="0.9"/>
<ellipse cx="580.5" cy="221.6" rx="2.6" ry="1.4" fill="#c8cff5"/>
<path d="M584.3,260.0 C584.3,256.0 578.7,255.8 576.5,258.2 L573.0,260.3 L576.5,262.4 C578.7,264.4 584.3,264.0 584.3,260.0 Z" fill="#8a96da" stroke="#6674c0" stroke-width="0.9"/>
<ellipse cx="580.5" cy="258.9" rx="2.6" ry="1.4" fill="#c8cff5"/>
<path d="M579.5,292.5 C579.5,288.7 574.2,288.5 572.2,290.8 L568.9,292.8 L572.2,294.8 C574.2,296.7 579.5,296.3 579.5,292.5 Z" fill="#8a96da" stroke="#6674c0" stroke-width="0.9"/>
<ellipse cx="575.9" cy="291.4" rx="2.6" ry="1.4" fill="#c8cff5"/>
<path d="M571.5,320.8 C571.5,317.3 566.6,317.1 564.7,319.2 L561.6,321.1 L564.7,322.9 C566.6,324.6 571.5,324.3 571.5,320.8 Z" fill="#8a96da" stroke="#6674c0" stroke-width="0.9"/>
<ellipse cx="568.2" cy="319.7" rx="2.6" ry="1.4" fill="#c8cff5"/>
<path d="M560.9,347.0 C560.9,343.8 556.4,343.6 554.6,345.5 L551.8,347.3 L554.6,348.9 C556.4,350.6 560.9,350.2 560.9,347.0 Z" fill="#8a96da" stroke="#6674c0" stroke-width="0.9"/>
<ellipse cx="557.8" cy="345.9" rx="2.6" ry="1.4" fill="#c8cff5"/>
<circle cx="499" cy="134.8" r="4.90" fill="#c8426f" stroke="#a8305e" stroke-width="0.8"/>
<circle cx="498" cy="133.8" r="1.91" fill="#de6898"/>
<circle cx="496.7" cy="168" r="4.90" fill="#c8426f" stroke="#a8305e" stroke-width="0.8"/>
<circle cx="495.7" cy="167" r="1.91" fill="#de6898"/>
<circle cx="494.5" cy="202.7" r="4.90" fill="#c8426f" stroke="#a8305e" stroke-width="0.8"/>
<circle cx="493.5" cy="201.7" r="1.91" fill="#de6898"/>
<circle cx="494.5" cy="241.3" r="4.90" fill="#c8426f" stroke="#a8305e" stroke-width="0.8"/>
<circle cx="493.5" cy="240.3" r="1.91" fill="#de6898"/>
<circle cx="497" cy="276" r="4.73" fill="#c8426f" stroke="#a8305e" stroke-width="0.8"/>
<circle cx="496" cy="275" r="1.85" fill="#de6898"/>
<circle cx="501" cy="306" r="4.42" fill="#c8426f" stroke="#a8305e" stroke-width="0.8"/>
<circle cx="500" cy="305" r="1.72" fill="#de6898"/>
<circle cx="508" cy="332" r="4.15" fill="#c8426f" stroke="#a8305e" stroke-width="0.8"/>
<circle cx="507" cy="331" r="1.62" fill="#de6898"/>
<circle cx="514" cy="357" r="3.89" fill="#c8426f" stroke="#a8305e" stroke-width="0.8"/>
<circle cx="513" cy="356" r="1.52" fill="#de6898"/>
<circle cx="569" cy="134" r="4.90" fill="#c8426f" stroke="#a8305e" stroke-width="0.8"/>
<circle cx="568" cy="133" r="1.91" fill="#de6898"/>
<circle cx="572" cy="168" r="4.90" fill="#c8426f" stroke="#a8305e" stroke-width="0.8"/>
<circle cx="571" cy="167" r="1.91" fill="#de6898"/>
<circle cx="573.5" cy="201.3" r="4.90" fill="#c8426f" stroke="#a8305e" stroke-width="0.8"/>
<circle cx="572.5" cy="200.3" r="1.91" fill="#de6898"/>
<circle cx="573.5" cy="240.8" r="4.90" fill="#c8426f" stroke="#a8305e" stroke-width="0.8"/>
<circle cx="572.5" cy="239.8" r="1.91" fill="#de6898"/>
<circle cx="572" cy="276" r="4.73" fill="#c8426f" stroke="#a8305e" stroke-width="0.8"/>
<circle cx="571" cy="275" r="1.85" fill="#de6898"/>
<circle cx="566" cy="306" r="4.42" fill="#c8426f" stroke="#a8305e" stroke-width="0.8"/>
<circle cx="565" cy="305" r="1.72" fill="#de6898"/>
<circle cx="560.5" cy="331" r="4.16" fill="#c8426f" stroke="#a8305e" stroke-width="0.8"/>
<circle cx="559.5" cy="330" r="1.62" fill="#de6898"/>
<circle cx="553" cy="356" r="3.90" fill="#c8426f" stroke="#a8305e" stroke-width="0.8"/>
<circle cx="552" cy="355" r="1.52" fill="#de6898"/>
<circle cx="508.7" cy="118.3" r="8.7" fill="#c8447c" stroke="#a0285e" stroke-width="1.2"/>
<circle cx="506.7" cy="116.8" r="3.5" fill="#da5a92" opacity="0.9"/>
<circle cx="511.2" cy="120.8" r="2" fill="#d85090" opacity="0.9"/>
<circle cx="558.2" cy="117.5" r="8.7" fill="#c8447c" stroke="#a0285e" stroke-width="1.2"/>
<circle cx="556.2" cy="116.0" r="3.5" fill="#da5a92" opacity="0.9"/>
<circle cx="560.7" cy="120.0" r="2" fill="#d85090" opacity="0.9"/>
<text x="182" y="16.6" font-size="16" text-anchor="middle" textLength="73.5" lengthAdjust="spacingAndGlyphs">Головной</text>
<text x="182.3" y="33.3" font-size="16" text-anchor="middle" textLength="107" lengthAdjust="spacingAndGlyphs">нервный узел</text>

<text x="178.8" y="130" font-size="16" text-anchor="middle" textLength="97.5" lengthAdjust="spacingAndGlyphs">Поперечный</text>
<text x="178.5" y="146.7" font-size="16" text-anchor="middle" textLength="67" lengthAdjust="spacingAndGlyphs">нервный</text>
<text x="178.5" y="163.3" font-size="16" text-anchor="middle" textLength="43" lengthAdjust="spacingAndGlyphs">ствол</text>

<text x="176" y="328" font-size="16" text-anchor="middle" textLength="66" lengthAdjust="spacingAndGlyphs">Клетки с</text>
<text x="178.3" y="344.5" font-size="16" text-anchor="middle" textLength="93" lengthAdjust="spacingAndGlyphs">ресничками</text>

<text x="394.3" y="308" font-size="16" text-anchor="middle" textLength="97" lengthAdjust="spacingAndGlyphs">Продольный</text>
<text x="393.8" y="325" font-size="16" text-anchor="middle" textLength="67" lengthAdjust="spacingAndGlyphs">нервный</text>
<text x="393.6" y="341.5" font-size="16" text-anchor="middle" textLength="43" lengthAdjust="spacingAndGlyphs">ствол</text>

<text x="432.4" y="16.6" font-size="16" text-anchor="middle" textLength="70.4" lengthAdjust="spacingAndGlyphs">Женская</text>
<text x="431.7" y="33" font-size="16" text-anchor="middle" textLength="65" lengthAdjust="spacingAndGlyphs">половая</text>
<text x="432" y="49.5" font-size="16" text-anchor="middle" textLength="64.6" lengthAdjust="spacingAndGlyphs">система</text>

<text x="422" y="187" font-size="16" text-anchor="middle" textLength="68.6" lengthAdjust="spacingAndGlyphs">Мужская</text>
<text x="421.5" y="203.5" font-size="16" text-anchor="middle" textLength="65" lengthAdjust="spacingAndGlyphs">половая</text>
<text x="421.5" y="220" font-size="16" text-anchor="middle" textLength="65" lengthAdjust="spacingAndGlyphs">система</text>

<text x="79.4" y="424" font-size="16" font-weight="bold" style="stroke-width:0.45px" text-anchor="middle" textLength="140.3" lengthAdjust="spacingAndGlyphs">Выделительная</text>
<text x="82.4" y="444" font-size="16" font-weight="bold" style="stroke-width:0.45px" text-anchor="middle" textLength="70.5" lengthAdjust="spacingAndGlyphs">система</text>

<text x="287.3" y="425" font-size="16" font-weight="bold" style="stroke-width:0.45px" text-anchor="middle" textLength="76" lengthAdjust="spacingAndGlyphs">Нервная</text>
<text x="286.7" y="444" font-size="16" font-weight="bold" style="stroke-width:0.45px" text-anchor="middle" textLength="72" lengthAdjust="spacingAndGlyphs">система</text>

<text x="542" y="424" font-size="16" font-weight="bold" style="stroke-width:0.45px" text-anchor="middle" textLength="76" lengthAdjust="spacingAndGlyphs">Половая</text>
<text x="542" y="443" font-size="16" font-weight="bold" style="stroke-width:0.45px" text-anchor="middle" textLength="71" lengthAdjust="spacingAndGlyphs">система</text>

<line x1="190" y1="37.8" x2="260" y2="77.6" stroke="#1a1a1a" stroke-width="1.9"/>
<line x1="190" y1="37.8" x2="304.5" y2="73.2" stroke="#1a1a1a" stroke-width="1.9"/>
<line x1="184" y1="167" x2="278" y2="225" stroke="#1a1a1a" stroke-width="1.9"/>
<line x1="395" y1="295" x2="314.3" y2="216.2" stroke="#1a1a1a" stroke-width="1.9"/>
<line x1="170" y1="306" x2="118" y2="207" stroke="#1a1a1a" stroke-width="1.9"/>
<line x1="170" y1="306" x2="57.8" y2="265.3" stroke="#1a1a1a" stroke-width="1.9"/>
<line x1="440" y1="57.8" x2="556" y2="116.5" stroke="#1a1a1a" stroke-width="1.9"/>
<line x1="440" y1="57.8" x2="506" y2="166" stroke="#1a1a1a" stroke-width="1.9"/>
<line x1="462.4" y1="197" x2="490" y2="185" stroke="#1a1a1a" stroke-width="1.9"/>
<line x1="462.4" y1="197" x2="523.5" y2="246" stroke="#1a1a1a" stroke-width="1.9"/>
</g>
</svg></body></html>
